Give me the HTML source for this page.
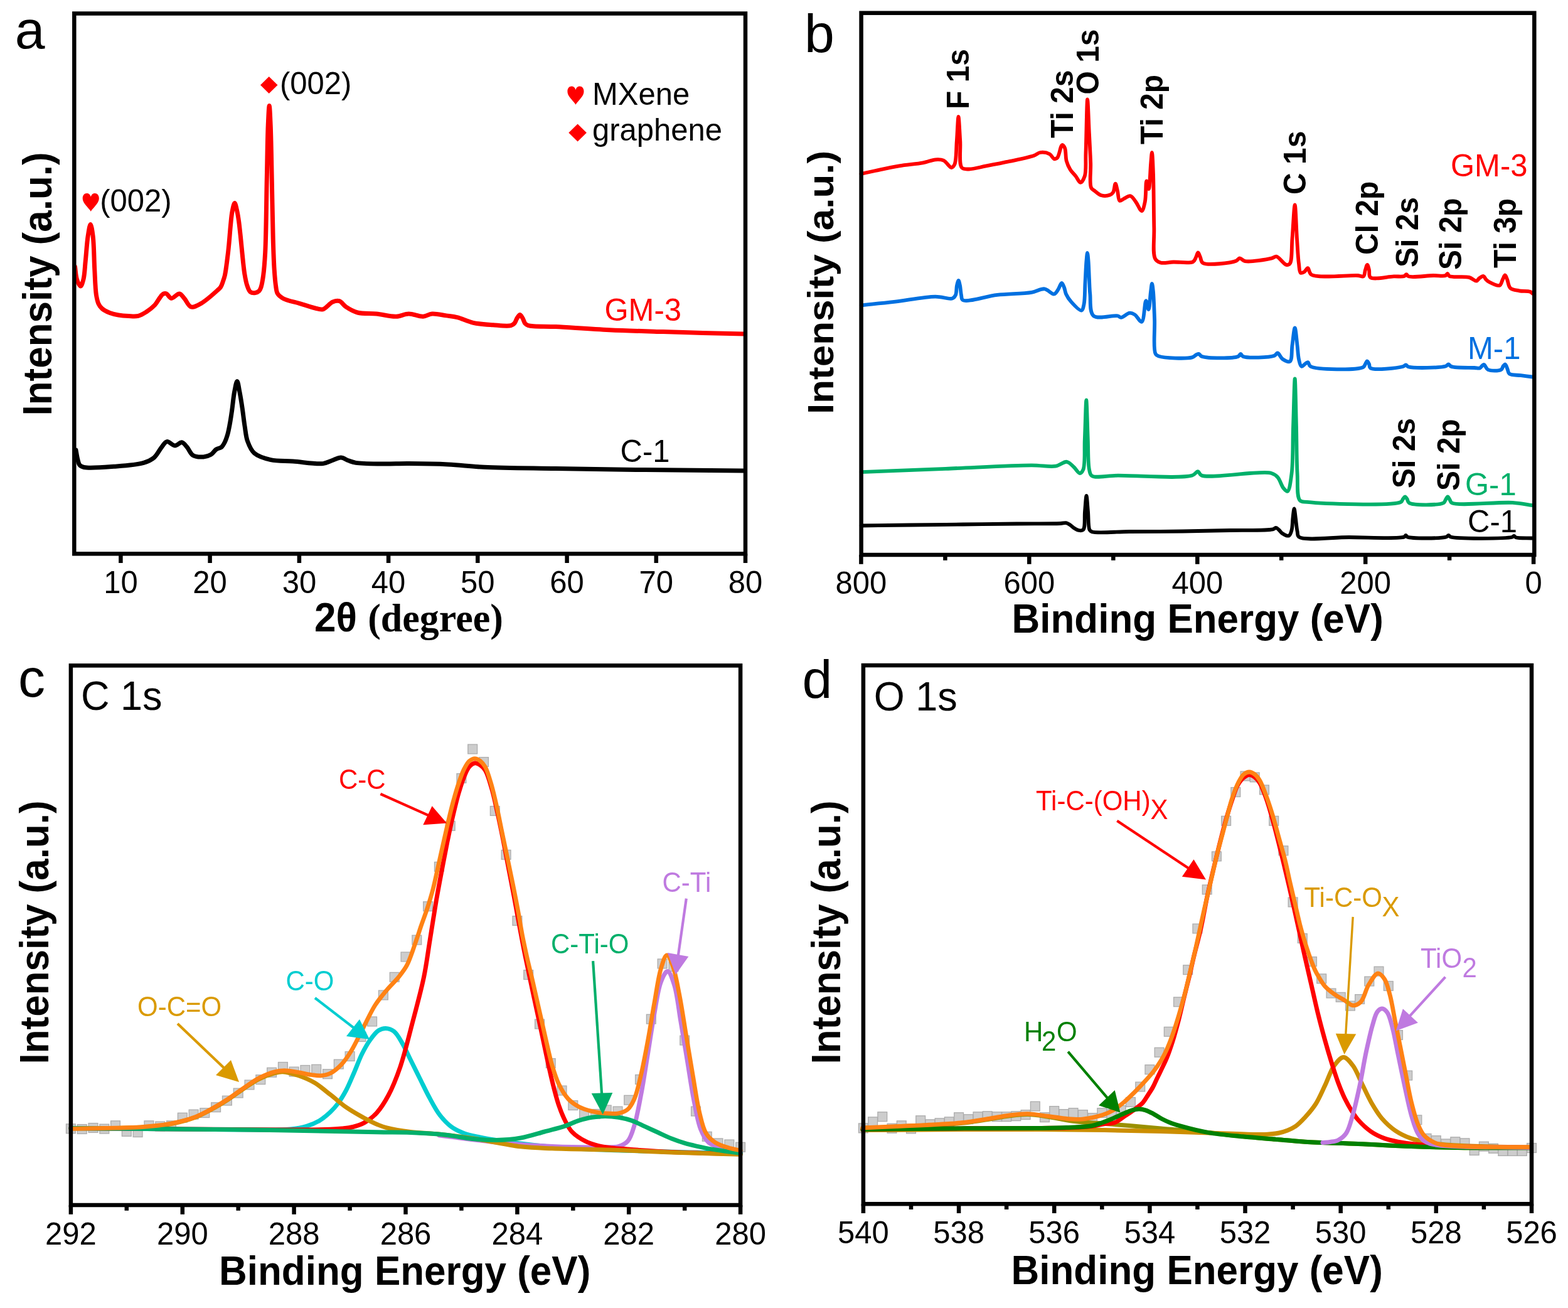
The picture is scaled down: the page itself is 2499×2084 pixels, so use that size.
<!DOCTYPE html>
<html><head><meta charset="utf-8"><title>Figure</title>
<style>html,body{margin:0;padding:0;background:#fff;overflow:hidden}svg{display:block}</style>
</head><body>
<svg width="2499" height="2084" viewBox="0 0 2499 2084"><rect width="2499" height="2084" fill="#fff"/>
<path d="M119.5 425 C120.5 431.7 120.7 439.5 122.5 445 C123.9 449.4 126.6 456.1 128.4 456 C130.1 455.9 131.8 449.7 133 445 C134.9 437.6 135.2 425.9 136.3 415.3 C137.6 403.1 138.5 386.5 140.2 375.9 C141.4 368.6 142.9 357.5 144.2 357.5 C145.5 357.5 147.1 368.1 148.1 375.9 C149.8 388.9 149.8 411.9 150.7 428.4 C151.5 443.1 151.8 459.9 153.4 470 C154.4 476 155.2 480.2 157 484 C158.4 487.1 160 489.3 162.5 491.5 C165.6 494.3 170.6 496.7 175 498.5 C179.4 500.2 184 501.2 188.8 502 C194 502.9 199.7 503.3 205 503.5 C210.2 503.7 215.6 504.5 220.4 503.3 C225.1 502.2 229.3 499.4 233.5 496.7 C238 493.8 242.9 490.1 246.6 486.2 C250 482.5 252.5 477.2 255 474 C256.8 471.7 258 469.5 259.8 468.5 C261.4 467.7 263.2 467.2 265 467.8 C267.5 468.6 269.8 474.8 272.9 475.2 C276.6 475.7 282.3 467.5 286 468 C289.1 468.4 291.2 472.7 293.9 475.7 C297.3 479.4 300 487.6 304.4 488.9 C308.8 490.2 314.6 486.7 320.2 483.6 C328.2 479.2 341.2 467.4 346.5 462.6 C349 460.3 350.3 459.5 351.7 457.3 C353.4 454.8 354.4 451.1 355.5 448 C356.6 445 357.4 442.8 358.3 439 C359.8 432.6 361.1 421.5 362.2 413 C363.3 404.8 364.1 397.5 364.9 389 C365.8 379.6 366.6 368.2 367.5 359 C368.3 351.1 368.8 343.4 370.1 337 C371.1 331.9 372.7 323.5 374 323.5 C375.3 323.5 376.9 332.3 378 337 C379.1 342 379.8 346.8 380.6 352.5 C381.6 359.5 382.4 367.9 383.3 375.9 C384.2 384.4 384.9 392.9 385.9 402.2 C387 412.8 388.2 426.7 389.8 436.3 C391 443.4 392 449.5 393.8 454.7 C395.2 458.8 396.5 463.3 399 465.2 C401.1 466.7 404.5 466.9 406.9 466.5 C409.1 466.2 411.5 465 413 463.5 C414.5 462 415.2 460 416.1 457.3 C417.5 453.1 418.5 446.9 419.5 440 C420.9 429.9 421.8 418.3 422.7 402.2 C424.2 373.8 424.5 320 425.3 284 C426 253.6 426.3 221.3 427.2 200 C427.8 187 428.5 168.5 429.2 168.5 C429.9 168.5 430.6 187 431.2 200 C432.1 221.3 432.6 255.1 433.2 284 C433.9 314.9 434.4 353.4 435.2 380 C435.8 398.9 436.2 414.7 437.1 428.4 C437.8 438.6 438.4 447.8 439.5 455 C440.3 460.1 440.3 464.3 442.4 467.8 C444.4 471.2 447.4 473.4 451.6 475.7 C457.9 479.1 469.1 481 477.8 483.6 C486.6 486.2 497.3 490.1 504.1 491.5 C508.3 492.4 510.9 493.8 514.6 492.8 C519.6 491.5 525.4 483 530.4 481 C534.1 479.5 537.6 478.7 540.9 479.7 C544.7 480.9 547.2 486.1 551.4 488.9 C556.5 492.3 562.7 496.1 569.8 498 C578.4 500.3 589.9 499 600 500 C610.4 501.1 622.1 504.7 631.4 504.3 C638.8 504 644.5 500.1 651.4 500 C658.8 499.9 667.6 504.7 674.3 504.3 C679.7 504 683.2 500.4 688.6 500 C695.3 499.4 704.3 501.9 711.4 502.9 C717.5 503.8 722.4 504.2 728.6 505.7 C736.4 507.6 745.2 512.3 754.3 514.3 C764.1 516.5 775.5 517 785.7 517.7 C795.4 518.4 808.5 520.2 814.3 518.6 C817.1 517.8 818.4 516.7 820 515 C821.8 513 822.5 509.3 824 507 C825.4 504.9 827.1 501.5 828.6 501.5 C830.1 501.5 831.7 504.9 833 507 C834.5 509.4 835.2 513.5 837 515.5 C838.4 517.1 839.3 517.8 842 518.6 C849.2 520.8 868.7 519.7 885.7 520.6 C909.5 521.9 942.8 524.4 971.4 525.7 C999.9 527 1030.6 527.8 1057 528.6 C1079.6 529.3 1098.8 529.9 1120 530.5 C1141.7 531.1 1163.8 531.5 1185.7 532" fill="none" stroke="#ff0000" stroke-width="7" stroke-linejoin="round" stroke-linecap="round"/>
<path d="M121 717 C121.9 722 122.6 727.7 123.8 732 C124.7 735.4 125.2 738.9 127 741 C128.6 742.9 130.4 743.7 133.8 744.5 C142.4 746.5 165.6 744.5 181.4 743.3 C197.3 742.1 217.4 740.9 229 737.4 C236.2 735.2 241 733 245.7 729 C250.6 724.8 253.8 717 257.6 712.4 C260.5 708.9 262.6 704.2 266 703.6 C269.7 702.9 274.9 710 279 710 C282.8 710 286.6 704.3 289.8 704.8 C292.9 705.3 295.4 709.4 298.1 712.4 C301.3 716 303.3 722.9 307.6 725.5 C312 728.1 319.2 728.3 324.3 727.9 C328.6 727.6 332.8 726.3 336.2 724.3 C339.5 722.3 341.5 718 344.5 716 C347.1 714.2 350.6 714.2 352.9 712.4 C355.1 710.6 356.5 707.9 358 705 C359.8 701.6 361.1 697.6 362.4 693.3 C363.9 688.4 364.9 682.8 366 677 C367.3 670.3 368.3 663.1 369.5 655.2 C370.9 646 371.8 633.7 373.5 625 C374.8 618.3 376.5 607.5 377.9 607.5 C379.3 607.5 380.7 618.6 382 625 C383.5 632.7 384.9 641.7 386.2 650.5 C387.6 660 388.7 670.8 390.2 680 C391.5 688.1 391.9 695.8 394.5 702.9 C397 709.8 399.7 717.1 405.2 721.9 C411.4 727.4 421.8 730.4 431.4 732.6 C442.2 735.1 454.3 734.1 467.1 735 C481.9 736.1 503.7 740 514.8 738.6 C521 737.8 524.3 735.4 529 733.8 C533.8 732.2 538.8 728.9 543.3 729 C547.5 729.1 551.2 732.4 555.2 733.8 C559.1 735.2 561.8 736.5 567.1 737.4 C576.9 739 595.8 738.8 610 739 C623.9 739.2 636.2 738.5 651.4 738.6 C670.2 738.7 693.9 739 714.3 740 C733.8 741 749.1 743.2 771.4 744.3 C802.9 745.8 845.5 745.9 885.7 746.6 C930.7 747.4 979.9 748 1028.6 748.6 C1079.4 749.2 1132.4 749.5 1184.3 750" fill="none" stroke="#000000" stroke-width="7" stroke-linejoin="round" stroke-linecap="round"/>
<rect x="118.3" y="21.5" width="1069.7" height="860.8" fill="none" stroke="#000" stroke-width="6.5"/>
<line x1="192.4" y1="882.3" x2="192.4" y2="897" stroke="#000" stroke-width="6.5" stroke-linecap="butt"/>
<line x1="334.6" y1="882.3" x2="334.6" y2="897" stroke="#000" stroke-width="6.5" stroke-linecap="butt"/>
<line x1="476.9" y1="882.3" x2="476.9" y2="897" stroke="#000" stroke-width="6.5" stroke-linecap="butt"/>
<line x1="619.1" y1="882.3" x2="619.1" y2="897" stroke="#000" stroke-width="6.5" stroke-linecap="butt"/>
<line x1="761.3" y1="882.3" x2="761.3" y2="897" stroke="#000" stroke-width="6.5" stroke-linecap="butt"/>
<line x1="903.6" y1="882.3" x2="903.6" y2="897" stroke="#000" stroke-width="6.5" stroke-linecap="butt"/>
<line x1="1045.8" y1="882.3" x2="1045.8" y2="897" stroke="#000" stroke-width="6.5" stroke-linecap="butt"/>
<line x1="1188" y1="882.3" x2="1188" y2="897" stroke="#000" stroke-width="6.5" stroke-linecap="butt"/>
<text transform="translate(192.4,944.5) scale(1.0,1.035)" font-family="&quot;Liberation Sans&quot;, Arial, Helvetica, sans-serif" font-size="49" text-anchor="middle" fill="#000">10</text>
<text transform="translate(334.6,944.5) scale(1.0,1.035)" font-family="&quot;Liberation Sans&quot;, Arial, Helvetica, sans-serif" font-size="49" text-anchor="middle" fill="#000">20</text>
<text transform="translate(476.9,944.5) scale(1.0,1.035)" font-family="&quot;Liberation Sans&quot;, Arial, Helvetica, sans-serif" font-size="49" text-anchor="middle" fill="#000">30</text>
<text transform="translate(619.1,944.5) scale(1.0,1.035)" font-family="&quot;Liberation Sans&quot;, Arial, Helvetica, sans-serif" font-size="49" text-anchor="middle" fill="#000">40</text>
<text transform="translate(761.3,944.5) scale(1.0,1.035)" font-family="&quot;Liberation Sans&quot;, Arial, Helvetica, sans-serif" font-size="49" text-anchor="middle" fill="#000">50</text>
<text transform="translate(903.6,944.5) scale(1.0,1.035)" font-family="&quot;Liberation Sans&quot;, Arial, Helvetica, sans-serif" font-size="49" text-anchor="middle" fill="#000">60</text>
<text transform="translate(1045.8,944.5) scale(1.0,1.035)" font-family="&quot;Liberation Sans&quot;, Arial, Helvetica, sans-serif" font-size="49" text-anchor="middle" fill="#000">70</text>
<text transform="translate(1188,944.5) scale(1.0,1.035)" font-family="&quot;Liberation Sans&quot;, Arial, Helvetica, sans-serif" font-size="49" text-anchor="middle" fill="#000">80</text>
<text transform="translate(23.7,77) scale(1.0,0.99)" font-family="&quot;Liberation Sans&quot;, Arial, Helvetica, sans-serif" font-size="86" fill="#000">a</text>
<text transform="translate(81.5,662.5) rotate(-90) scale(1.0,1.035)" font-family="&quot;Liberation Sans&quot;, Arial, Helvetica, sans-serif" font-size="62" font-weight="bold" fill="#000">Intensity (a.u.)</text>
<text transform="translate(501,1005.7) scale(1,1.035)" font-size="62" font-weight="bold" fill="#000"><tspan font-family="&quot;Liberation Sans&quot;, Arial, Helvetica, sans-serif">2θ </tspan><tspan font-family="&quot;Liberation Serif&quot;, &quot;Times New Roman&quot;, serif">(degree)</tspan></text>
<path transform="translate(131.7,308) scale(26.1,28.9)" fill="#ff0000" d="M0.5,0.19 C0.44,0.04 0.35,0 0.25,0 C0.1,0 0,0.12 0,0.27 C0,0.45 0.12,0.58 0.25,0.72 C0.36,0.84 0.45,0.92 0.5,1 C0.55,0.92 0.64,0.84 0.75,0.72 C0.88,0.58 1,0.45 1,0.27 C1,0.12 0.9,0 0.75,0 C0.65,0 0.56,0.04 0.5,0.19 Z"/>
<text transform="translate(159.3,337.3) scale(1.0,1.035)" font-family="&quot;Liberation Sans&quot;, Arial, Helvetica, sans-serif" font-size="49" fill="#000">(002)</text>
<polygon points="428.7,122 442.5,135.5 428.7,149 415,135.5" fill="#ff0000"/>
<text transform="translate(446,150) scale(1.0,1.035)" font-family="&quot;Liberation Sans&quot;, Arial, Helvetica, sans-serif" font-size="49" fill="#000">(002)</text>
<path transform="translate(904.4,137.6) scale(26.1,29.2)" fill="#ff0000" d="M0.5,0.19 C0.44,0.04 0.35,0 0.25,0 C0.1,0 0,0.12 0,0.27 C0,0.45 0.12,0.58 0.25,0.72 C0.36,0.84 0.45,0.92 0.5,1 C0.55,0.92 0.64,0.84 0.75,0.72 C0.88,0.58 1,0.45 1,0.27 C1,0.12 0.9,0 0.75,0 C0.65,0 0.56,0.04 0.5,0.19 Z"/>
<polygon points="920.6,197.6 934.9,211.6 920.6,225.6 906.3,211.6" fill="#ff0000"/>
<text transform="translate(944,167) scale(1.0,1.035)" font-family="&quot;Liberation Sans&quot;, Arial, Helvetica, sans-serif" font-size="49" fill="#000">MXene</text>
<text transform="translate(944,224.3) scale(1.0,1.035)" font-family="&quot;Liberation Sans&quot;, Arial, Helvetica, sans-serif" font-size="49" fill="#000">graphene</text>
<text transform="translate(963.5,511.4) scale(1.0,1.035)" font-family="&quot;Liberation Sans&quot;, Arial, Helvetica, sans-serif" font-size="49" fill="#ff0000">GM-3</text>
<text transform="translate(988.5,735.7) scale(1.0,1.035)" font-family="&quot;Liberation Sans&quot;, Arial, Helvetica, sans-serif" font-size="49" fill="#000">C-1</text>
<path d="M1372.5 277 C1380.1 275.3 1386.7 273.8 1395.2 272 C1406.2 269.7 1420.4 266.5 1433.1 264.4 C1445.7 262.3 1460.4 261.4 1471 259.4 C1478.8 257.9 1485.2 254.7 1491.2 254.3 C1495.9 254 1499.9 253.8 1503.8 255.6 C1508.4 257.6 1513.2 267.1 1516.4 267 C1518.5 266.9 1520.1 264.7 1521.4 261.9 C1524.4 255.5 1523.8 237.5 1524.8 225 C1525.8 212.2 1526.6 186 1527.5 186 C1528.4 186 1529.4 211.8 1530.3 225 C1531.2 238.7 1527.8 261.1 1532.8 267 C1535.4 270.1 1539.6 269.4 1544.2 269.5 C1551.4 269.6 1562 266.3 1571.9 264.4 C1583.6 262.2 1597.2 259.6 1609.8 256.9 C1622.4 254.2 1639.1 251 1647.6 248 C1652.2 246.4 1653.9 243.6 1657.7 243 C1662.2 242.3 1669 243.4 1672.9 245.5 C1676.1 247.2 1677.6 252.5 1680 253.1 C1681.7 253.5 1683.5 252.9 1685.1 251.4 C1688.2 248.4 1690.2 231.5 1692.8 231 C1694.2 230.7 1696 233.5 1697.1 236 C1699 240.4 1698 250.5 1699.7 256.5 C1701.1 261.6 1703.2 266.1 1705.7 270.2 C1708.1 274.1 1711.6 277 1714.3 280.5 C1717 283.9 1719.6 290.9 1722 290.8 C1724.4 290.7 1727.2 285.3 1728.8 280.5 C1731.5 272.1 1729.9 257.9 1730.5 242.8 C1731.4 220.3 1732.1 158.5 1733.1 158.5 C1733.9 158.5 1734.9 191.7 1735.7 208.5 C1736.6 225.5 1737.6 243.9 1738.2 259.9 C1738.7 273.9 1735.9 292.6 1739.1 299.3 C1740.5 302.3 1742.8 302.7 1745.1 304.5 C1748 306.7 1751.5 310.3 1755.4 311.3 C1759.5 312.4 1765.8 311.8 1769.1 310.5 C1771.4 309.6 1772.9 308.3 1774.2 306.2 C1776.1 303.1 1776.5 292.6 1777.7 292.6 C1778.8 292.6 1780 300.3 1781.1 304.5 C1782.3 309.3 1782.1 318.7 1784.5 319.9 C1786.2 320.7 1788.9 317.7 1791.4 316.5 C1794.5 315.1 1798.6 311.5 1801.6 312.2 C1804.9 312.9 1807.4 318 1810.2 321.6 C1813.4 325.8 1817.1 336.3 1819.6 336 C1821.9 335.7 1823.5 327.5 1824.8 321.6 C1826.7 312.9 1825.8 288.4 1827.3 288.3 C1828.2 288.2 1829.8 301.1 1830.8 301 C1832.5 300.8 1833.2 270.6 1834.2 259.9 C1834.8 253 1835.4 243 1835.9 243 C1836.7 243 1837.5 263.2 1838 277.1 C1838.8 299.2 1838.7 338.1 1839.3 362.7 C1839.8 381.4 1836.6 403.7 1841 412.1 C1843 416 1845.9 417.4 1849.6 418.5 C1854.8 420.1 1862.5 417.7 1870 417.5 C1879.3 417.2 1895.9 420.1 1901.4 417.1 C1904.3 415.5 1904.7 412.5 1906 410 C1907.3 407.6 1908.2 402.4 1909.4 402.4 C1910.6 402.4 1911.8 407.4 1913 410 C1914.3 412.9 1913.8 417 1917.1 419 C1924.6 423.5 1961.5 418.9 1970 415.7 C1973.1 414.5 1973.5 411.6 1975.7 411.4 C1978.2 411.2 1980.2 415.3 1984.3 416.1 C1993 417.8 2018.9 413.4 2027.1 411.4 C2030.6 410.5 2031.6 408.1 2034.3 408.6 C2038.7 409.3 2045.9 421.1 2050 421.9 C2052.2 422.3 2054.2 421.9 2055.7 420 C2059.6 415.1 2058.3 394.3 2059.5 380 C2060.9 363.5 2062.4 326.5 2063.7 326.5 C2064.9 326.5 2065.9 363.5 2067 380 C2068 394.3 2068.6 410 2070 420 C2070.8 426.1 2070.7 433.3 2072.9 434.7 C2074.3 435.6 2076.8 434.3 2078.6 433.3 C2080.7 432.1 2082.5 426.9 2084.3 427.1 C2086.4 427.4 2085.8 435 2090 437.6 C2100.5 444 2151.7 437.9 2164.3 439 C2168.6 439.4 2171 441.6 2172.9 440.4 C2175.1 439 2174.9 433.2 2176 430 C2177 427.1 2178.1 422 2179.1 422 C2180.1 422 2181.2 427 2182 430 C2182.9 433.5 2181 439.5 2184 441.9 C2189.3 446.2 2211.4 440.7 2221.4 440.4 C2228 440.2 2234.7 441.3 2238 440 C2239.7 439.3 2240.3 437.1 2241.4 437.1 C2242.6 437.1 2242.9 439.6 2245 440.4 C2250.9 442.6 2273.4 439.2 2284.3 439 C2292 438.9 2300.4 440.5 2304 439 C2305.6 438.3 2306 435.9 2307 436 C2308 436.1 2308.1 439 2310 440 C2314.8 442.6 2333.7 439.8 2341.4 441.9 C2346.3 443.2 2349.9 448 2352.9 447.6 C2355.1 447.3 2356.1 444.3 2358 443 C2359.9 441.7 2362.6 439.6 2364.3 440 C2365.9 440.4 2366.6 443.5 2368 445 C2369.4 446.5 2370.6 447.7 2372.9 449 C2376.8 451.1 2386.3 456.2 2390 454.7 C2392.9 453.5 2393.4 447.9 2395 445 C2396.3 442.6 2397.4 438.5 2398.6 438.5 C2399.8 438.5 2400.9 442.4 2402 445 C2403.6 448.7 2403.8 455.9 2407 459 C2410.2 462.1 2416.3 462.3 2421.4 463.3 C2426.8 464.3 2434.9 463.3 2438.6 464.7 C2440.7 465.5 2441.5 466.9 2442.9 468" fill="none" stroke="#ff0000" stroke-width="5.8" stroke-linejoin="round" stroke-linecap="round"/>
<path d="M1372.7 486.3 C1390.1 484.5 1406.4 483 1424.8 480.9 C1445.5 478.5 1473.4 472.8 1490.6 472.6 C1501.7 472.5 1512.8 477.4 1518 475.4 C1520.7 474.4 1521.8 472.5 1523 470 C1524.7 466.4 1524 459.2 1525 455 C1525.7 451.9 1526.8 447 1527.6 447 C1528.4 447 1529.3 451.9 1530 455 C1530.9 459.2 1531.1 465.8 1532 470 C1532.7 473.1 1531.9 476.5 1534.5 478.1 C1541.2 482.3 1571 472 1589.3 469.9 C1607.5 467.9 1630.3 468.1 1644.1 465.8 C1652.7 464.3 1658.5 459.6 1664.7 460.3 C1670.3 461 1676 469.1 1679.8 468.5 C1682.5 468.1 1684.1 464.6 1686 462 C1688.3 458.9 1690.3 451 1692.1 451 C1693.5 451 1694.9 455.4 1696 458 C1697.3 461.1 1697.4 465 1699 468.5 C1700.9 472.6 1703.6 476.9 1707.2 480.9 C1711.5 485.7 1720.3 495.4 1723.6 494.6 C1725.9 494 1726.5 489.3 1727.5 485 C1729.3 477.1 1728.8 461.7 1729.5 450 C1730.2 438.3 1730.7 423.6 1731.5 415 C1732 409.9 1732.5 403 1733 403 C1733.5 403 1734.1 410.1 1734.5 415 C1735.2 422.7 1735.5 435.6 1736 445 C1736.4 453.3 1736.4 459.9 1737.3 468.5 C1738.4 479 1735.9 497.3 1742.8 503.2 C1750 509.4 1774.3 501.6 1781.2 503.2 C1784 503.8 1784.5 505.9 1786.7 505.9 C1790.3 505.9 1796.4 499 1800.4 498.7 C1803.4 498.4 1805.9 499.7 1808.6 501.4 C1812.3 503.7 1816.8 513.6 1819.6 512.8 C1823.7 511.6 1824.2 479.2 1826.4 479.1 C1827.8 479 1829.4 493.3 1830.5 493.2 C1832.1 493.1 1832.9 472.6 1834 465 C1834.7 459.8 1835.3 452 1836 452 C1836.7 452 1837.4 459.4 1838 465 C1839 475.4 1839.5 494 1840.1 509.6 C1840.7 526.7 1837.6 556 1841.5 563.5 C1842.9 566.2 1844 566.5 1847 567.6 C1855.4 570.6 1890.8 571.9 1900 569.4 C1903.6 568.4 1905 565.9 1907 565 C1908.3 564.4 1909.3 563.6 1910.5 563.8 C1912.1 564.1 1912.7 567 1915.7 568 C1924.4 571.1 1965.5 571.3 1973.3 568 C1975.8 566.9 1976 563.8 1977.3 563.8 C1978.6 563.8 1978.8 567 1981.2 568 C1988.3 571 2023.1 569.6 2031 566.7 C2033.9 565.6 2034.4 562.3 2036.2 562.5 C2038.7 562.8 2040.7 569.8 2044 572 C2047.3 574.2 2053.1 577.6 2055.8 575.9 C2059.7 573.5 2058.2 558.8 2059.5 550 C2060.8 541 2062.4 522.5 2063.7 522.5 C2065 522.5 2066.4 541.2 2067.5 550 C2068.5 558.1 2068.7 567.1 2070.2 573.3 C2071.2 577.6 2072.2 583.2 2074.2 583.8 C2075.9 584.3 2079 580.2 2081 579 C2082.4 578.2 2083.6 576.9 2084.7 577.2 C2086.2 577.7 2085.6 582.1 2088.6 583.8 C2098.4 589.5 2163 589.9 2172.4 585.1 C2175 583.8 2174.9 581.7 2176 580 C2177 578.5 2177.9 575.5 2178.9 575.5 C2179.9 575.5 2181.2 578.3 2182 580 C2182.9 581.9 2181.9 584.9 2184 586.4 C2189.9 590.6 2228.2 586.2 2236 584 C2238.4 583.3 2239 581.4 2240.5 581.5 C2242 581.6 2242.5 583.8 2245 584.5 C2253.4 587 2295.6 586.1 2304 583.5 C2306.6 582.7 2307.1 580.4 2308.6 580.5 C2310.1 580.6 2310.6 583.1 2313 584 C2319.2 586.3 2342 585.6 2350 586 C2353.8 586.2 2355.9 587.3 2358.4 586.4 C2360.9 585.5 2362.8 580.6 2364.9 580.8 C2367.2 581 2368.1 587.4 2371.4 589 C2376.1 591.3 2388.5 591.2 2392.4 589 C2394.6 587.7 2394.7 584.5 2396 583 C2397 581.9 2398.1 580.3 2399 580.5 C2400.3 580.8 2401.4 585.5 2402.5 588 C2403.6 590.5 2403.3 593.8 2405.5 595.6 C2408.8 598.2 2417.7 597.4 2423.8 598.2 C2429.9 599 2436.1 599.7 2442.2 600.5" fill="none" stroke="#0070e0" stroke-width="5.8" stroke-linejoin="round" stroke-linecap="round"/>
<path d="M1372.7 752.2 C1417.5 750.4 1462 748.6 1507 746.8 C1552.5 745 1612.5 741.4 1644.1 741.3 C1660.8 741.3 1672.3 744.4 1682.5 742.7 C1689.7 741.5 1695.2 735.1 1700.3 735.8 C1704.6 736.4 1707.9 741 1711.3 744 C1714.7 747 1718.2 754 1720.9 754 C1723 754 1725 751.4 1726.4 748.1 C1729.8 740 1728 717.1 1728.8 700 C1729.7 680.5 1730.5 637.5 1731.3 637.5 C1732.1 637.5 1733 680.5 1733.8 700 C1734.5 717.1 1733.8 738.2 1736 748.1 C1737 752.8 1736.8 755.9 1740.1 758.1 C1746.5 762.4 1763.9 757.8 1781.2 757.7 C1810.5 757.5 1883.1 763 1900 757.6 C1905.2 755.9 1906.6 750.8 1909.2 751.1 C1911.5 751.4 1911.2 755.9 1915 757.5 C1928.5 763.2 2008.6 749.1 2025.7 753.7 C2031.4 755.2 2033.2 757 2036.2 760.3 C2040 764.4 2042.2 773.7 2045.4 777.6 C2047.5 780.1 2050.1 783.4 2051.9 782.8 C2055.3 781.6 2056.9 766.6 2058.5 755 C2061 736.2 2060.1 705.1 2061 680 C2061.9 654.6 2062.9 603.5 2063.7 603.5 C2064.5 603.5 2065.3 654.6 2066 680 C2066.6 705.1 2066.4 733.6 2067.6 755 C2068.5 771.1 2066.4 791.2 2071.6 797.2 C2074.4 800.4 2077.1 799.2 2083.3 799.9 C2105 802.4 2219.6 806.7 2232.6 799.9 C2235.2 798.5 2234.8 796.5 2236 795 C2237 793.7 2238.1 791.4 2239.2 791.4 C2240.3 791.4 2241.5 793.6 2242.5 795 C2243.7 796.7 2243.2 799.7 2245.7 801.2 C2252.7 805.5 2293.6 805.1 2300.7 801.2 C2303.1 799.9 2302.9 797.7 2304 796 C2305.1 794.4 2306.2 791.4 2307.3 791.4 C2308.4 791.4 2309.4 794.4 2310.5 796 C2311.6 797.7 2311.3 799.8 2313.8 801.2 C2323.8 806.7 2387.3 799.4 2410.7 800.9 C2424.1 801.8 2431.7 803.7 2442.2 805.1" fill="none" stroke="#00b06a" stroke-width="5.8" stroke-linejoin="round" stroke-linecap="round"/>
<path d="M1372.7 837.5 C1398.5 837.2 1423.7 836.8 1450 836.5 C1477.5 836.2 1506.3 835.8 1534.5 835.5 C1562.9 835.2 1592.9 834.8 1620 834.5 C1644.5 834.3 1677.7 834.6 1690 834 C1694.4 833.8 1696.4 832.7 1699 833.2 C1701.3 833.6 1703 834.8 1705 836 C1707.3 837.4 1709.5 840 1712 841.5 C1714.4 843 1717 844.6 1719.5 845 C1721.8 845.4 1724.7 845.9 1726.4 844.1 C1729.9 840.5 1728.1 824.3 1729 815 C1729.8 806.3 1730.7 790 1731.5 790 C1732.3 790 1733.2 806.3 1734 815 C1734.9 824.3 1734.1 839.5 1736.5 844.1 C1737.5 846 1737.9 846.4 1740.1 847.2 C1747.8 850 1778.3 847.1 1800 847 C1825.7 846.9 1857 846.9 1884.4 846.5 C1910.3 846.2 1935.4 845.5 1960 845 C1983.4 844.5 2018.6 845.7 2028.4 843.4 C2031.2 842.7 2032 840.8 2033.6 840.9 C2035.2 841 2036.5 842.7 2038 844 C2039.9 845.6 2041.4 848.5 2043.9 850 C2046.7 851.8 2051.7 854.5 2054.2 853.5 C2056.5 852.6 2057.5 848.5 2058.5 845 C2060 839.8 2059.8 831.1 2060.5 825 C2061.1 819.8 2061.9 810.5 2062.6 810.5 C2063.3 810.5 2064.1 819.7 2064.8 825 C2065.7 831.5 2066.4 841.1 2067.6 846.7 C2068.4 850.3 2067.3 853.3 2070.2 855.5 C2078.8 862 2122.8 856 2150 856 C2178.6 856 2229.4 858.9 2237.9 855.5 C2239.6 854.8 2239.6 853 2240.5 853 C2241.3 853 2241.4 854.8 2243 855.5 C2249.8 858.3 2297.1 858 2305 855.5 C2307.1 854.8 2307.4 853 2308.6 853 C2309.8 853 2309.9 854.8 2312 855.5 C2322.1 858.8 2400.4 858.2 2410 855.7 C2411.8 855.2 2412 853.9 2413 854 C2414 854.1 2414.4 855.6 2416 856.2 C2420.3 857.7 2433.5 857.1 2442.2 857.5" fill="none" stroke="#000000" stroke-width="5.8" stroke-linejoin="round" stroke-linecap="round"/>
<rect x="1372.6" y="20.7" width="1072.7" height="863.3" fill="none" stroke="#000" stroke-width="6.5"/>
<line x1="1372.4" y1="884" x2="1372.4" y2="898.8" stroke="#000" stroke-width="6.5" stroke-linecap="butt"/>
<line x1="1640.3" y1="884" x2="1640.3" y2="898.8" stroke="#000" stroke-width="6.5" stroke-linecap="butt"/>
<line x1="1908.3" y1="884" x2="1908.3" y2="898.8" stroke="#000" stroke-width="6.5" stroke-linecap="butt"/>
<line x1="2176.2" y1="884" x2="2176.2" y2="898.8" stroke="#000" stroke-width="6.5" stroke-linecap="butt"/>
<line x1="2444.1" y1="884" x2="2444.1" y2="898.8" stroke="#000" stroke-width="6.5" stroke-linecap="butt"/>
<line x1="1506.4" y1="884" x2="1506.4" y2="892.8" stroke="#000" stroke-width="6.5" stroke-linecap="butt"/>
<line x1="1774.3" y1="884" x2="1774.3" y2="892.8" stroke="#000" stroke-width="6.5" stroke-linecap="butt"/>
<line x1="2042.2" y1="884" x2="2042.2" y2="892.8" stroke="#000" stroke-width="6.5" stroke-linecap="butt"/>
<line x1="2310.1" y1="884" x2="2310.1" y2="892.8" stroke="#000" stroke-width="6.5" stroke-linecap="butt"/>
<text transform="translate(1372.4,945.5) scale(1.0,1.035)" font-family="&quot;Liberation Sans&quot;, Arial, Helvetica, sans-serif" font-size="49" text-anchor="middle" fill="#000">800</text>
<text transform="translate(1640.3,945.5) scale(1.0,1.035)" font-family="&quot;Liberation Sans&quot;, Arial, Helvetica, sans-serif" font-size="49" text-anchor="middle" fill="#000">600</text>
<text transform="translate(1908.3,945.5) scale(1.0,1.035)" font-family="&quot;Liberation Sans&quot;, Arial, Helvetica, sans-serif" font-size="49" text-anchor="middle" fill="#000">400</text>
<text transform="translate(2176.2,945.5) scale(1.0,1.035)" font-family="&quot;Liberation Sans&quot;, Arial, Helvetica, sans-serif" font-size="49" text-anchor="middle" fill="#000">200</text>
<text transform="translate(2444.1,945.5) scale(1.0,1.035)" font-family="&quot;Liberation Sans&quot;, Arial, Helvetica, sans-serif" font-size="49" text-anchor="middle" fill="#000">0</text>
<text transform="translate(1282,83) scale(1.0,0.99)" font-family="&quot;Liberation Sans&quot;, Arial, Helvetica, sans-serif" font-size="86" fill="#000">b</text>
<text transform="translate(1328,660) rotate(-90) scale(1.0,0.93)" font-family="&quot;Liberation Sans&quot;, Arial, Helvetica, sans-serif" font-size="62" font-weight="bold" fill="#000">Intensity (a.u.)</text>
<text transform="translate(1612.5,1007.7) scale(1.0,1.035)" font-family="&quot;Liberation Sans&quot;, Arial, Helvetica, sans-serif" font-size="62" font-weight="bold" fill="#000">Binding Energy (eV)</text>
<text transform="translate(1544.4,174) rotate(-90) scale(1.0,1.035)" font-family="&quot;Liberation Sans&quot;, Arial, Helvetica, sans-serif" font-size="48" font-weight="bold" fill="#000">F 1s</text>
<text transform="translate(1710,220) rotate(-90) scale(1.0,1.035)" font-family="&quot;Liberation Sans&quot;, Arial, Helvetica, sans-serif" font-size="48" font-weight="bold" fill="#000">Ti 2s</text>
<text transform="translate(1751,150.5) rotate(-90) scale(1.0,1.035)" font-family="&quot;Liberation Sans&quot;, Arial, Helvetica, sans-serif" font-size="48" font-weight="bold" fill="#000">O 1s</text>
<text transform="translate(1853,230) rotate(-90) scale(1.0,1.035)" font-family="&quot;Liberation Sans&quot;, Arial, Helvetica, sans-serif" font-size="48" font-weight="bold" fill="#000">Ti 2p</text>
<text transform="translate(2081.4,310) rotate(-90) scale(1.0,1.035)" font-family="&quot;Liberation Sans&quot;, Arial, Helvetica, sans-serif" font-size="48" font-weight="bold" fill="#000">C 1s</text>
<text transform="translate(2195.7,406) rotate(-90) scale(1.0,1.035)" font-family="&quot;Liberation Sans&quot;, Arial, Helvetica, sans-serif" font-size="48" font-weight="bold" fill="#000">Cl 2p</text>
<text transform="translate(2260,426) rotate(-90) scale(1.0,1.035)" font-family="&quot;Liberation Sans&quot;, Arial, Helvetica, sans-serif" font-size="48" font-weight="bold" fill="#000">Si 2s</text>
<text transform="translate(2328.6,430) rotate(-90) scale(1.0,1.035)" font-family="&quot;Liberation Sans&quot;, Arial, Helvetica, sans-serif" font-size="48" font-weight="bold" fill="#000">Si 2p</text>
<text transform="translate(2415.7,427) rotate(-90) scale(1.0,1.035)" font-family="&quot;Liberation Sans&quot;, Arial, Helvetica, sans-serif" font-size="48" font-weight="bold" fill="#000">Ti 3p</text>
<text transform="translate(2254.9,778) rotate(-90) scale(1.0,1.035)" font-family="&quot;Liberation Sans&quot;, Arial, Helvetica, sans-serif" font-size="48" font-weight="bold" fill="#000">Si 2s</text>
<text transform="translate(2325.6,782) rotate(-90) scale(1.0,1.035)" font-family="&quot;Liberation Sans&quot;, Arial, Helvetica, sans-serif" font-size="48" font-weight="bold" fill="#000">Si 2p</text>
<text transform="translate(2312,281.4) scale(1.0,1.035)" font-family="&quot;Liberation Sans&quot;, Arial, Helvetica, sans-serif" font-size="49" fill="#ff0000">GM-3</text>
<text transform="translate(2339,571.7) scale(1.0,1.035)" font-family="&quot;Liberation Sans&quot;, Arial, Helvetica, sans-serif" font-size="49" fill="#0070e0">M-1</text>
<text transform="translate(2335,789) scale(1.0,1.035)" font-family="&quot;Liberation Sans&quot;, Arial, Helvetica, sans-serif" font-size="49" fill="#00b06a">G-1</text>
<text transform="translate(2339,848) scale(1.0,1.035)" font-family="&quot;Liberation Sans&quot;, Arial, Helvetica, sans-serif" font-size="49" fill="#000">C-1</text>
<rect x="105.5" y="1790.9" width="14.8" height="14.8" fill="#cdcdcd" stroke="#acacac" stroke-width="1.3"/>
<rect x="123.3" y="1791.6" width="14.8" height="14.8" fill="#cdcdcd" stroke="#acacac" stroke-width="1.3"/>
<rect x="141.1" y="1789.6" width="14.8" height="14.8" fill="#cdcdcd" stroke="#acacac" stroke-width="1.3"/>
<rect x="158.9" y="1791.2" width="14.8" height="14.8" fill="#cdcdcd" stroke="#acacac" stroke-width="1.3"/>
<rect x="176.6" y="1785.9" width="14.8" height="14.8" fill="#cdcdcd" stroke="#acacac" stroke-width="1.3"/>
<rect x="194.4" y="1795.5" width="14.8" height="14.8" fill="#cdcdcd" stroke="#acacac" stroke-width="1.3"/>
<rect x="212.2" y="1796.7" width="14.8" height="14.8" fill="#cdcdcd" stroke="#acacac" stroke-width="1.3"/>
<rect x="230" y="1785.9" width="14.8" height="14.8" fill="#cdcdcd" stroke="#acacac" stroke-width="1.3"/>
<rect x="247.8" y="1787.1" width="14.8" height="14.8" fill="#cdcdcd" stroke="#acacac" stroke-width="1.3"/>
<rect x="265.6" y="1785.9" width="14.8" height="14.8" fill="#cdcdcd" stroke="#acacac" stroke-width="1.3"/>
<rect x="283.4" y="1773.3" width="14.8" height="14.8" fill="#cdcdcd" stroke="#acacac" stroke-width="1.3"/>
<rect x="301.2" y="1768.2" width="14.8" height="14.8" fill="#cdcdcd" stroke="#acacac" stroke-width="1.3"/>
<rect x="318.9" y="1765.7" width="14.8" height="14.8" fill="#cdcdcd" stroke="#acacac" stroke-width="1.3"/>
<rect x="336.7" y="1756.8" width="14.8" height="14.8" fill="#cdcdcd" stroke="#acacac" stroke-width="1.3"/>
<rect x="354.5" y="1746.2" width="14.8" height="14.8" fill="#cdcdcd" stroke="#acacac" stroke-width="1.3"/>
<rect x="372.3" y="1734.1" width="14.8" height="14.8" fill="#cdcdcd" stroke="#acacac" stroke-width="1.3"/>
<rect x="390.1" y="1721" width="14.8" height="14.8" fill="#cdcdcd" stroke="#acacac" stroke-width="1.3"/>
<rect x="407.9" y="1712.7" width="14.8" height="14.8" fill="#cdcdcd" stroke="#acacac" stroke-width="1.3"/>
<rect x="425.7" y="1701.3" width="14.8" height="14.8" fill="#cdcdcd" stroke="#acacac" stroke-width="1.3"/>
<rect x="443.5" y="1692.5" width="14.8" height="14.8" fill="#cdcdcd" stroke="#acacac" stroke-width="1.3"/>
<rect x="461.2" y="1700.1" width="14.8" height="14.8" fill="#cdcdcd" stroke="#acacac" stroke-width="1.3"/>
<rect x="479" y="1697.5" width="14.8" height="14.8" fill="#cdcdcd" stroke="#acacac" stroke-width="1.3"/>
<rect x="496.8" y="1696.3" width="14.8" height="14.8" fill="#cdcdcd" stroke="#acacac" stroke-width="1.3"/>
<rect x="514.6" y="1703.8" width="14.8" height="14.8" fill="#cdcdcd" stroke="#acacac" stroke-width="1.3"/>
<rect x="532.4" y="1688.2" width="14.8" height="14.8" fill="#cdcdcd" stroke="#acacac" stroke-width="1.3"/>
<rect x="550.2" y="1675.6" width="14.8" height="14.8" fill="#cdcdcd" stroke="#acacac" stroke-width="1.3"/>
<rect x="568" y="1644.6" width="14.8" height="14.8" fill="#cdcdcd" stroke="#acacac" stroke-width="1.3"/>
<rect x="585.7" y="1620.1" width="14.8" height="14.8" fill="#cdcdcd" stroke="#acacac" stroke-width="1.3"/>
<rect x="603.5" y="1578.1" width="14.8" height="14.8" fill="#cdcdcd" stroke="#acacac" stroke-width="1.3"/>
<rect x="621.3" y="1549.4" width="14.8" height="14.8" fill="#cdcdcd" stroke="#acacac" stroke-width="1.3"/>
<rect x="639.1" y="1517.1" width="14.8" height="14.8" fill="#cdcdcd" stroke="#acacac" stroke-width="1.3"/>
<rect x="656.9" y="1490.2" width="14.8" height="14.8" fill="#cdcdcd" stroke="#acacac" stroke-width="1.3"/>
<rect x="674.7" y="1436.7" width="14.8" height="14.8" fill="#cdcdcd" stroke="#acacac" stroke-width="1.3"/>
<rect x="692.5" y="1373.5" width="14.8" height="14.8" fill="#cdcdcd" stroke="#acacac" stroke-width="1.3"/>
<rect x="710.3" y="1308.5" width="14.8" height="14.8" fill="#cdcdcd" stroke="#acacac" stroke-width="1.3"/>
<rect x="728" y="1232.6" width="14.8" height="14.8" fill="#cdcdcd" stroke="#acacac" stroke-width="1.3"/>
<rect x="745.8" y="1186.1" width="14.8" height="14.8" fill="#cdcdcd" stroke="#acacac" stroke-width="1.3"/>
<rect x="763.6" y="1206.6" width="14.8" height="14.8" fill="#cdcdcd" stroke="#acacac" stroke-width="1.3"/>
<rect x="781.4" y="1284.6" width="14.8" height="14.8" fill="#cdcdcd" stroke="#acacac" stroke-width="1.3"/>
<rect x="799.2" y="1354.4" width="14.8" height="14.8" fill="#cdcdcd" stroke="#acacac" stroke-width="1.3"/>
<rect x="817" y="1459.6" width="14.8" height="14.8" fill="#cdcdcd" stroke="#acacac" stroke-width="1.3"/>
<rect x="834.8" y="1545.7" width="14.8" height="14.8" fill="#cdcdcd" stroke="#acacac" stroke-width="1.3"/>
<rect x="852.6" y="1624.2" width="14.8" height="14.8" fill="#cdcdcd" stroke="#acacac" stroke-width="1.3"/>
<rect x="870.3" y="1686.6" width="14.8" height="14.8" fill="#cdcdcd" stroke="#acacac" stroke-width="1.3"/>
<rect x="888.1" y="1730.1" width="14.8" height="14.8" fill="#cdcdcd" stroke="#acacac" stroke-width="1.3"/>
<rect x="905.9" y="1753.7" width="14.8" height="14.8" fill="#cdcdcd" stroke="#acacac" stroke-width="1.3"/>
<rect x="923.7" y="1767.5" width="14.8" height="14.8" fill="#cdcdcd" stroke="#acacac" stroke-width="1.3"/>
<rect x="941.5" y="1767.5" width="14.8" height="14.8" fill="#cdcdcd" stroke="#acacac" stroke-width="1.3"/>
<rect x="959.3" y="1761.1" width="14.8" height="14.8" fill="#cdcdcd" stroke="#acacac" stroke-width="1.3"/>
<rect x="977.1" y="1763.2" width="14.8" height="14.8" fill="#cdcdcd" stroke="#acacac" stroke-width="1.3"/>
<rect x="994.8" y="1745.3" width="14.8" height="14.8" fill="#cdcdcd" stroke="#acacac" stroke-width="1.3"/>
<rect x="1012.6" y="1712.5" width="14.8" height="14.8" fill="#cdcdcd" stroke="#acacac" stroke-width="1.3"/>
<rect x="1030.4" y="1616.3" width="14.8" height="14.8" fill="#cdcdcd" stroke="#acacac" stroke-width="1.3"/>
<rect x="1048.2" y="1528" width="14.8" height="14.8" fill="#cdcdcd" stroke="#acacac" stroke-width="1.3"/>
<rect x="1066" y="1532.6" width="14.8" height="14.8" fill="#cdcdcd" stroke="#acacac" stroke-width="1.3"/>
<rect x="1083.8" y="1650.2" width="14.8" height="14.8" fill="#cdcdcd" stroke="#acacac" stroke-width="1.3"/>
<rect x="1101.6" y="1763.2" width="14.8" height="14.8" fill="#cdcdcd" stroke="#acacac" stroke-width="1.3"/>
<rect x="1119.4" y="1803.4" width="14.8" height="14.8" fill="#cdcdcd" stroke="#acacac" stroke-width="1.3"/>
<rect x="1137.1" y="1814" width="14.8" height="14.8" fill="#cdcdcd" stroke="#acacac" stroke-width="1.3"/>
<rect x="1154.9" y="1816.1" width="14.8" height="14.8" fill="#cdcdcd" stroke="#acacac" stroke-width="1.3"/>
<rect x="1172.7" y="1820.3" width="14.8" height="14.8" fill="#cdcdcd" stroke="#acacac" stroke-width="1.3"/>
<path d="M113 1797.5 C208.7 1798.3 338.8 1800.2 400 1800 C428.8 1799.9 447.1 1800.6 463.4 1799 C473.8 1798 480.8 1796.7 488.6 1794.3 C495.8 1792.1 502.5 1789.4 508.8 1785.7 C515.2 1781.9 521.3 1776.7 526.5 1771.8 C531.3 1767.3 535.1 1762.9 539.1 1757.5 C543.6 1751.4 547.7 1744.5 551.7 1737 C556.2 1728.5 560.1 1718.5 564.3 1709 C568.6 1699.2 572.4 1688.1 577 1679 C581.1 1670.8 585.4 1663 590.2 1656.5 C594.3 1650.8 598.7 1644.7 603.4 1641.8 C607 1639.5 610.8 1638.4 614.7 1638.5 C619 1638.6 623.9 1640.3 627.9 1643.3 C633 1647.2 636.9 1655.1 641.1 1662.1 C645.8 1670 649.8 1679.4 654.3 1688.5 C659.1 1698.2 664.3 1708.6 669.3 1718.7 C674.3 1728.7 679 1739 684.4 1748.8 C689.7 1758.5 695 1769 701.4 1777.1 C707.1 1784.4 713.5 1791.1 720.2 1795.9 C726.2 1800.2 732.5 1802.9 739.1 1805.4 C745.8 1807.9 751.9 1809.2 760 1811 C771.1 1813.5 783.6 1815.7 800 1818 C825.8 1821.7 858.2 1826 900 1829 C969.8 1834 1086.7 1835 1180 1838" fill="none" stroke="#00cdd0" stroke-width="7" stroke-linejoin="round" stroke-linecap="round"/>
<path d="M700 1809 C733.3 1813 768.5 1818 800 1821 C828.1 1823.7 853 1825.4 880 1826.5 C907.8 1827.7 945.7 1828.1 964.5 1827.7 C973.9 1827.5 979.5 1828.4 985.7 1826.6 C991.3 1825 996.5 1822.7 1000.5 1818.2 C1005.6 1812.5 1008 1802.8 1011.1 1792.8 C1015.3 1779.4 1018.3 1761.5 1021.6 1744.2 C1025.4 1724.5 1028.7 1702.1 1032.2 1680.8 C1035.8 1659.1 1039 1635.7 1042.8 1615.3 C1046.1 1597.3 1048.5 1576.7 1053.3 1564.6 C1056.3 1557 1060.5 1547.3 1063.9 1547.5 C1067.6 1547.7 1071.5 1559.6 1074.5 1568.8 C1079.3 1583.3 1081.5 1607.9 1085 1628 C1088.6 1648.8 1092.1 1670.3 1095.6 1691.4 C1099.1 1712.5 1102.3 1735.6 1106.2 1754.8 C1109.5 1771 1111.9 1787.4 1116.7 1799.2 C1120.2 1807.9 1123.6 1815.4 1129.4 1820.3 C1135 1825.1 1142.9 1826.3 1150.6 1828.8 C1159.5 1831.7 1170.2 1833.6 1180 1836" fill="none" stroke="#bf7ae0" stroke-width="7" stroke-linejoin="round" stroke-linecap="round"/>
<path d="M113 1797.5 C225.3 1798.3 377.5 1800.1 450 1800 C484.5 1800 509.7 1800 526.5 1799.3 C534.8 1799 538.9 1798.6 545 1798 C550.9 1797.4 556.6 1797 562.5 1795.5 C568.8 1793.9 575.4 1791.8 581.4 1788.4 C588 1784.6 594.4 1779.7 600.2 1773.3 C607.1 1765.7 613.3 1755.9 619.1 1745 C626.1 1732 632.1 1716.6 637.9 1699.8 C644.8 1679.7 650.6 1655.2 656.7 1631.9 C663.1 1607.5 670.7 1580 675.6 1556.5 C679.8 1536.1 681.8 1518.7 685 1499 C688.4 1478 692 1454.1 695.4 1434.2 C698.4 1417.1 701.2 1402.3 704.2 1386.5 C707.1 1371 710.1 1355.3 713.1 1340.4 C716 1326.4 718.8 1312.8 721.9 1299.7 C724.8 1287.5 727.6 1275.2 730.8 1264.3 C733.6 1254.8 736.4 1245.5 739.6 1237.8 C742.2 1231.6 744.6 1225.3 748 1221.5 C750.6 1218.6 754 1216 757 1215.7 C759.8 1215.4 762.9 1217.3 765.5 1219 C768.4 1220.9 770.9 1223.3 773.3 1227.2 C777.4 1233.8 780.8 1246.7 783.9 1257.3 C787.3 1268.9 789.8 1281.6 792.7 1294.4 C795.8 1308.1 798.7 1322.4 801.6 1336.9 C804.6 1351.9 807.5 1367.6 810.4 1382.9 C813.4 1398.2 816.4 1413.4 819.3 1428.9 C822.3 1444.7 825.1 1460.8 828.1 1476.7 C831.1 1492.6 833.4 1505.3 837.3 1524.4 C843.1 1553 852.9 1597.6 860.2 1631.6 C866.9 1662.5 873.6 1696.2 879.4 1720 C883.4 1736.4 886.5 1749.2 890.6 1761.1 C893.9 1770.7 897.3 1779 901.1 1786.5 C904.4 1792.9 906.9 1798.4 911.7 1803.4 C917.1 1809.1 925.5 1814.5 932.8 1818.2 C939.6 1821.7 946.9 1823.8 954 1825.6 C961 1827.4 967.8 1828.1 975.1 1829 C983 1830 989.6 1830.2 1000 1831 C1017.4 1832.3 1044 1834.3 1070 1835.5 C1102.5 1837 1143.3 1837.7 1180 1838.8" fill="none" stroke="#ff0000" stroke-width="7" stroke-linejoin="round" stroke-linecap="round"/>
<path d="M113 1798 C137.2 1797.8 165.4 1797.9 185.7 1797.5 C200.4 1797.2 211 1797.1 223.6 1796.3 C236.2 1795.5 250.1 1794.2 261.4 1792.5 C270.7 1791.1 278.3 1789.6 286.7 1787.5 C295.2 1785.4 303.6 1783.2 311.9 1780 C320.5 1776.6 328.9 1772 337.2 1767.5 C345.7 1762.9 354.1 1757.8 362.4 1752.5 C370.9 1747 379.1 1740.6 387.6 1735 C396 1729.5 404.2 1723.3 412.9 1719 C421.1 1714.9 431.1 1711.3 438.1 1709.5 C442.9 1708.3 445.8 1707.6 450.7 1707.8 C457.7 1708.1 467.7 1711 476 1713.8 C484.5 1716.7 493.1 1720.3 501.2 1725.1 C509.9 1730.2 518.1 1737.6 526.5 1744.1 C535 1750.6 543.1 1758.2 551.7 1764.2 C559.9 1769.9 568.4 1774.7 576.9 1779.4 C585.2 1784 594.9 1788.9 602.2 1792 C607.6 1794.2 610.5 1795.4 616.5 1796.9 C626 1799.3 641 1801.8 654.3 1803.5 C669.1 1805.4 684.9 1805.6 701.4 1807.3 C719.9 1809.2 739.7 1811.7 760 1814.8 C782.2 1818.1 808.2 1824.3 829.6 1826.8 C847.7 1828.9 860.1 1829 880 1829.8 C908.8 1831 952.4 1831.4 985.7 1832.5 C1015.4 1833.5 1040.2 1834.9 1070.2 1836 C1104.4 1837.2 1143.5 1838.2 1180.2 1839.3" fill="none" stroke="#cc8e00" stroke-width="7" stroke-linejoin="round" stroke-linecap="round"/>
<path d="M113 1797.5 C208.7 1798.3 313 1798.8 400 1800 C472.7 1801 554.3 1803.1 600 1803.8 C623.8 1804.2 636 1803.7 654.3 1804.4 C673 1805.1 693.4 1806.3 710.8 1808.2 C726 1809.8 739.3 1813.1 753.1 1814.5 C766.1 1815.8 778.5 1816.7 791.3 1816.5 C804.2 1816.3 817.3 1815.2 830 1813 C842.8 1810.7 855.8 1806.3 868 1803 C879.4 1799.9 891.4 1797.2 901.1 1793.9 C909 1791.2 915.2 1787.7 922.3 1785.4 C929.3 1783.2 936.3 1781.3 943.4 1780.2 C950.4 1779.1 957.5 1778.5 964.5 1778.5 C971.6 1778.5 978.7 1779.1 985.7 1780.2 C992.8 1781.3 999.9 1783 1006.8 1785.4 C1014 1787.9 1020.9 1791.7 1028 1794.9 C1035 1798.1 1042.1 1801.3 1049.1 1804.5 C1056.1 1807.7 1063.1 1811.2 1070.2 1814 C1077.2 1816.8 1084.3 1819.3 1091.4 1821.4 C1098.4 1823.5 1105.5 1825 1112.5 1826.6 C1119.5 1828.2 1126.5 1829.7 1133.6 1830.9 C1140.6 1832.1 1147.4 1833 1154.8 1834 C1162.9 1835.1 1171.7 1836.1 1180.2 1837.2" fill="none" stroke="#00af6a" stroke-width="7" stroke-linejoin="round" stroke-linecap="round"/>
<path d="M113.8 1798.3 C137.8 1797.9 165.5 1797.6 185.7 1797.1 C200.3 1796.7 211 1796.6 223.6 1795.8 C236.2 1794.9 250.1 1793.7 261.4 1792 C270.7 1790.6 278.3 1789.1 286.7 1787 C295.2 1784.9 303.6 1782.7 311.9 1779.4 C320.5 1776 328.9 1771.4 337.2 1766.8 C345.7 1762.1 354.1 1757 362.4 1751.6 C370.9 1746.1 379.1 1739.7 387.6 1734 C396 1728.4 404.3 1722.1 412.9 1717.6 C421.1 1713.3 430.6 1709.4 438.1 1707.5 C443.7 1706.1 447.7 1705.7 453.3 1705.7 C460.1 1705.7 468.7 1707.5 476 1708.7 C482.9 1709.8 489.9 1711.6 496.2 1712.5 C501.6 1713.2 506.3 1714.2 511.3 1713.8 C516.4 1713.4 521.5 1712.5 526.5 1710 C532.5 1707.1 538.7 1701.7 544.1 1696.1 C550 1689.9 554.8 1682.5 560 1674 C566.4 1663.6 572.6 1649.7 578.9 1637.6 C585.2 1625.6 591 1612.4 597.7 1601.8 C603.6 1592.6 610.1 1585 616.5 1577.3 C622.6 1570 629.9 1563.5 635.4 1556.6 C640.4 1550.3 644.5 1545.5 648.6 1537.7 C654.1 1527.2 659.5 1509.2 663.5 1498 C666.4 1489.8 668 1484.4 670.6 1476.7 C673.7 1467.5 677.9 1456.7 681.2 1446.6 C684.4 1436.6 687.4 1427 690.1 1416.5 C693 1405.2 695.5 1393 698.1 1381.2 C700.8 1369.4 703.4 1357.6 706 1345.8 C708.7 1334 711.3 1321.9 714 1310.4 C716.6 1299.5 719.1 1288.9 721.9 1278.5 C724.7 1268.3 727.7 1257.7 730.8 1248.4 C733.6 1240.2 736.3 1231.8 739.6 1225.4 C742.2 1220.3 744.7 1215.3 748 1212.5 C750.7 1210.3 754 1208.6 757 1208.6 C759.9 1208.6 762.9 1210.5 765.5 1212.5 C768.4 1214.8 770.9 1217.8 773.3 1221.9 C776.8 1228 779.4 1237.6 782.1 1246.6 C785.3 1257.3 788.2 1269.6 791 1282 C794.1 1295.5 796.9 1310.3 799.8 1324.5 C802.8 1338.7 805.7 1352.8 808.7 1367 C811.6 1381.2 814.6 1395 817.5 1409.5 C820.5 1424.5 823.8 1441.2 826.4 1455.5 C828.7 1468.1 830.3 1479 832.6 1490.9 C835 1503.1 837.8 1515.9 840.5 1528 C843.2 1539.8 845.5 1548.6 848.8 1562.7 C853.9 1584.6 862.2 1622.4 867.9 1646.9 C872.3 1666 875.7 1683.1 880 1697.7 C883.4 1709 886.2 1718.2 890.6 1727.3 C894.7 1735.8 899.7 1744.4 905.4 1750.6 C910.4 1756 916.1 1759.9 922.3 1763.2 C928.7 1766.6 936.3 1768.8 943.4 1770.6 C950.4 1772.3 957.4 1773.3 964.5 1773.8 C971.5 1774.3 979.4 1775.1 985.7 1773.8 C991.2 1772.7 996.4 1771 1000.5 1767.5 C1005.1 1763.6 1008 1757.6 1011.1 1750.6 C1015.5 1740.7 1018.3 1726.3 1021.6 1712.5 C1025.4 1696.4 1028.8 1678 1032.2 1659.7 C1035.9 1640.1 1039.2 1618.3 1042.8 1598.4 C1046.2 1579.6 1049 1557.3 1053.3 1543.4 C1056.1 1534.4 1059.5 1522.1 1062.8 1522 C1065.8 1521.9 1069.5 1531.8 1072.3 1539.2 C1076.7 1550.7 1079.6 1568.9 1082.9 1585.7 C1086.7 1605.1 1090 1628 1093.5 1649.1 C1097 1670.2 1100.5 1691.7 1104.1 1712.5 C1107.6 1732.6 1110.5 1754.8 1114.6 1771.7 C1117.8 1784.7 1120 1797 1125.2 1805.5 C1129.2 1812.1 1134.2 1816.5 1140 1820.3 C1146.1 1824.3 1154.2 1826.7 1161.1 1828.8 C1167.5 1830.8 1173.8 1831.6 1180.2 1833" fill="none" stroke="#ff8214" stroke-width="6.8" stroke-linejoin="round" stroke-linecap="round"/>
<rect x="112.9" y="1060.4" width="1067.2" height="859.6" fill="none" stroke="#000" stroke-width="6.5"/>
<line x1="112.9" y1="1920" x2="112.9" y2="1934.8" stroke="#000" stroke-width="6.5" stroke-linecap="butt"/>
<line x1="290.8" y1="1920" x2="290.8" y2="1934.8" stroke="#000" stroke-width="6.5" stroke-linecap="butt"/>
<line x1="468.6" y1="1920" x2="468.6" y2="1934.8" stroke="#000" stroke-width="6.5" stroke-linecap="butt"/>
<line x1="646.5" y1="1920" x2="646.5" y2="1934.8" stroke="#000" stroke-width="6.5" stroke-linecap="butt"/>
<line x1="824.4" y1="1920" x2="824.4" y2="1934.8" stroke="#000" stroke-width="6.5" stroke-linecap="butt"/>
<line x1="1002.2" y1="1920" x2="1002.2" y2="1934.8" stroke="#000" stroke-width="6.5" stroke-linecap="butt"/>
<line x1="1180.1" y1="1920" x2="1180.1" y2="1934.8" stroke="#000" stroke-width="6.5" stroke-linecap="butt"/>
<line x1="201.8" y1="1920" x2="201.8" y2="1928.8" stroke="#000" stroke-width="6.5" stroke-linecap="butt"/>
<line x1="379.7" y1="1920" x2="379.7" y2="1928.8" stroke="#000" stroke-width="6.5" stroke-linecap="butt"/>
<line x1="557.6" y1="1920" x2="557.6" y2="1928.8" stroke="#000" stroke-width="6.5" stroke-linecap="butt"/>
<line x1="735.4" y1="1920" x2="735.4" y2="1928.8" stroke="#000" stroke-width="6.5" stroke-linecap="butt"/>
<line x1="913.3" y1="1920" x2="913.3" y2="1928.8" stroke="#000" stroke-width="6.5" stroke-linecap="butt"/>
<line x1="1091.2" y1="1920" x2="1091.2" y2="1928.8" stroke="#000" stroke-width="6.5" stroke-linecap="butt"/>
<text transform="translate(112.9,1982.5) scale(1.0,1.035)" font-family="&quot;Liberation Sans&quot;, Arial, Helvetica, sans-serif" font-size="49" text-anchor="middle" fill="#000">292</text>
<text transform="translate(290.8,1982.5) scale(1.0,1.035)" font-family="&quot;Liberation Sans&quot;, Arial, Helvetica, sans-serif" font-size="49" text-anchor="middle" fill="#000">290</text>
<text transform="translate(468.6,1982.5) scale(1.0,1.035)" font-family="&quot;Liberation Sans&quot;, Arial, Helvetica, sans-serif" font-size="49" text-anchor="middle" fill="#000">288</text>
<text transform="translate(646.5,1982.5) scale(1.0,1.035)" font-family="&quot;Liberation Sans&quot;, Arial, Helvetica, sans-serif" font-size="49" text-anchor="middle" fill="#000">286</text>
<text transform="translate(824.4,1982.5) scale(1.0,1.035)" font-family="&quot;Liberation Sans&quot;, Arial, Helvetica, sans-serif" font-size="49" text-anchor="middle" fill="#000">284</text>
<text transform="translate(1002.2,1982.5) scale(1.0,1.035)" font-family="&quot;Liberation Sans&quot;, Arial, Helvetica, sans-serif" font-size="49" text-anchor="middle" fill="#000">282</text>
<text transform="translate(1180.1,1982.5) scale(1.0,1.035)" font-family="&quot;Liberation Sans&quot;, Arial, Helvetica, sans-serif" font-size="49" text-anchor="middle" fill="#000">280</text>
<text transform="translate(29,1110) scale(1.0,0.99)" font-family="&quot;Liberation Sans&quot;, Arial, Helvetica, sans-serif" font-size="86" fill="#000">c</text>
<text transform="translate(76.8,1695.5) rotate(-90) scale(1.0,1.035)" font-family="&quot;Liberation Sans&quot;, Arial, Helvetica, sans-serif" font-size="62" font-weight="bold" fill="#000">Intensity (a.u.)</text>
<text transform="translate(349,2047.1) scale(1.0,1.035)" font-family="&quot;Liberation Sans&quot;, Arial, Helvetica, sans-serif" font-size="62" font-weight="bold" fill="#000">Binding Energy (eV)</text>
<text transform="translate(129,1130.7) scale(1.0,1.035)" font-family="&quot;Liberation Sans&quot;, Arial, Helvetica, sans-serif" font-size="63" fill="#000">C 1s</text>
<text transform="translate(540,1257.1) scale(1.0,1.035)" font-family="&quot;Liberation Sans&quot;, Arial, Helvetica, sans-serif" font-size="42" fill="#ff0000">C-C</text>
<line x1="606.4" y1="1265" x2="696.8" y2="1305.3" stroke="#ff0000" stroke-width="4.2" stroke-linecap="butt"/>
<polygon points="712.1,1311.4 688.6,1284.3 674.3,1314.3" fill="#ff0000"/>
<text transform="translate(455.5,1578) scale(1.0,1.035)" font-family="&quot;Liberation Sans&quot;, Arial, Helvetica, sans-serif" font-size="42" fill="#00cdd0">C-O</text>
<line x1="502" y1="1590" x2="575.8" y2="1646.8" stroke="#00cdd0" stroke-width="4.2" stroke-linecap="butt"/>
<polygon points="589,1656 573,1624 552,1651" fill="#00cdd0"/>
<text transform="translate(219,1619) scale(1.0,1.035)" font-family="&quot;Liberation Sans&quot;, Arial, Helvetica, sans-serif" font-size="42" fill="#da9a00">O-C=O</text>
<line x1="283" y1="1631" x2="368.5" y2="1712.5" stroke="#da9a00" stroke-width="4.2" stroke-linecap="butt"/>
<polygon points="381,1724 368,1689 344,1713" fill="#da9a00"/>
<text transform="translate(878,1519.1) scale(1.0,1.035)" font-family="&quot;Liberation Sans&quot;, Arial, Helvetica, sans-serif" font-size="42" fill="#00af6a">C-Ti-O</text>
<line x1="945.1" y1="1531.1" x2="960.1" y2="1758.6" stroke="#00af6a" stroke-width="4.2" stroke-linecap="butt"/>
<polygon points="960.7,1775.7 942.7,1742.1 976.3,1740.9" fill="#00af6a"/>
<text transform="translate(1055.5,1420.8) scale(1.0,1.035)" font-family="&quot;Liberation Sans&quot;, Arial, Helvetica, sans-serif" font-size="42" fill="#bf7ae0">C-Ti</text>
<line x1="1093.8" y1="1431.6" x2="1078.8" y2="1536.8" stroke="#bf7ae0" stroke-width="4.2" stroke-linecap="butt"/>
<polygon points="1077,1552.7 1063.8,1517.9 1097.4,1523.9" fill="#bf7ae0"/>
<rect x="1368.5" y="1790" width="14.8" height="14.8" fill="#cdcdcd" stroke="#acacac" stroke-width="1.3"/>
<rect x="1383.7" y="1779.9" width="14.8" height="14.8" fill="#cdcdcd" stroke="#acacac" stroke-width="1.3"/>
<rect x="1398.9" y="1771.8" width="14.8" height="14.8" fill="#cdcdcd" stroke="#acacac" stroke-width="1.3"/>
<rect x="1414.1" y="1790.4" width="14.8" height="14.8" fill="#cdcdcd" stroke="#acacac" stroke-width="1.3"/>
<rect x="1429.4" y="1785.9" width="14.8" height="14.8" fill="#cdcdcd" stroke="#acacac" stroke-width="1.3"/>
<rect x="1444.6" y="1791" width="14.8" height="14.8" fill="#cdcdcd" stroke="#acacac" stroke-width="1.3"/>
<rect x="1459.8" y="1777.8" width="14.8" height="14.8" fill="#cdcdcd" stroke="#acacac" stroke-width="1.3"/>
<rect x="1475" y="1783.9" width="14.8" height="14.8" fill="#cdcdcd" stroke="#acacac" stroke-width="1.3"/>
<rect x="1490.2" y="1781.9" width="14.8" height="14.8" fill="#cdcdcd" stroke="#acacac" stroke-width="1.3"/>
<rect x="1505.4" y="1779.9" width="14.8" height="14.8" fill="#cdcdcd" stroke="#acacac" stroke-width="1.3"/>
<rect x="1520.7" y="1772.8" width="14.8" height="14.8" fill="#cdcdcd" stroke="#acacac" stroke-width="1.3"/>
<rect x="1535.9" y="1775.8" width="14.8" height="14.8" fill="#cdcdcd" stroke="#acacac" stroke-width="1.3"/>
<rect x="1551.1" y="1771.8" width="14.8" height="14.8" fill="#cdcdcd" stroke="#acacac" stroke-width="1.3"/>
<rect x="1566.3" y="1770.8" width="14.8" height="14.8" fill="#cdcdcd" stroke="#acacac" stroke-width="1.3"/>
<rect x="1581.5" y="1771.8" width="14.8" height="14.8" fill="#cdcdcd" stroke="#acacac" stroke-width="1.3"/>
<rect x="1596.7" y="1771.8" width="14.8" height="14.8" fill="#cdcdcd" stroke="#acacac" stroke-width="1.3"/>
<rect x="1611.9" y="1770.8" width="14.8" height="14.8" fill="#cdcdcd" stroke="#acacac" stroke-width="1.3"/>
<rect x="1627.2" y="1768.7" width="14.8" height="14.8" fill="#cdcdcd" stroke="#acacac" stroke-width="1.3"/>
<rect x="1642.4" y="1755.2" width="14.8" height="14.8" fill="#cdcdcd" stroke="#acacac" stroke-width="1.3"/>
<rect x="1657.6" y="1772.8" width="14.8" height="14.8" fill="#cdcdcd" stroke="#acacac" stroke-width="1.3"/>
<rect x="1672.8" y="1762.7" width="14.8" height="14.8" fill="#cdcdcd" stroke="#acacac" stroke-width="1.3"/>
<rect x="1688" y="1767.7" width="14.8" height="14.8" fill="#cdcdcd" stroke="#acacac" stroke-width="1.3"/>
<rect x="1703.2" y="1765.7" width="14.8" height="14.8" fill="#cdcdcd" stroke="#acacac" stroke-width="1.3"/>
<rect x="1718.5" y="1768.7" width="14.8" height="14.8" fill="#cdcdcd" stroke="#acacac" stroke-width="1.3"/>
<rect x="1733.7" y="1773.8" width="14.8" height="14.8" fill="#cdcdcd" stroke="#acacac" stroke-width="1.3"/>
<rect x="1748.9" y="1765.7" width="14.8" height="14.8" fill="#cdcdcd" stroke="#acacac" stroke-width="1.3"/>
<rect x="1764.1" y="1767.7" width="14.8" height="14.8" fill="#cdcdcd" stroke="#acacac" stroke-width="1.3"/>
<rect x="1779.3" y="1761.6" width="14.8" height="14.8" fill="#cdcdcd" stroke="#acacac" stroke-width="1.3"/>
<rect x="1794.5" y="1748.6" width="14.8" height="14.8" fill="#cdcdcd" stroke="#acacac" stroke-width="1.3"/>
<rect x="1809.8" y="1724.1" width="14.8" height="14.8" fill="#cdcdcd" stroke="#acacac" stroke-width="1.3"/>
<rect x="1825" y="1696.7" width="14.8" height="14.8" fill="#cdcdcd" stroke="#acacac" stroke-width="1.3"/>
<rect x="1840.2" y="1669.3" width="14.8" height="14.8" fill="#cdcdcd" stroke="#acacac" stroke-width="1.3"/>
<rect x="1855.4" y="1636.4" width="14.8" height="14.8" fill="#cdcdcd" stroke="#acacac" stroke-width="1.3"/>
<rect x="1870.6" y="1588.9" width="14.8" height="14.8" fill="#cdcdcd" stroke="#acacac" stroke-width="1.3"/>
<rect x="1885.8" y="1537.8" width="14.8" height="14.8" fill="#cdcdcd" stroke="#acacac" stroke-width="1.3"/>
<rect x="1901" y="1472.1" width="14.8" height="14.8" fill="#cdcdcd" stroke="#acacac" stroke-width="1.3"/>
<rect x="1916.3" y="1410" width="14.8" height="14.8" fill="#cdcdcd" stroke="#acacac" stroke-width="1.3"/>
<rect x="1931.5" y="1357" width="14.8" height="14.8" fill="#cdcdcd" stroke="#acacac" stroke-width="1.3"/>
<rect x="1946.7" y="1300.4" width="14.8" height="14.8" fill="#cdcdcd" stroke="#acacac" stroke-width="1.3"/>
<rect x="1961.9" y="1254.7" width="14.8" height="14.8" fill="#cdcdcd" stroke="#acacac" stroke-width="1.3"/>
<rect x="1977.1" y="1229.1" width="14.8" height="14.8" fill="#cdcdcd" stroke="#acacac" stroke-width="1.3"/>
<rect x="1992.3" y="1231" width="14.8" height="14.8" fill="#cdcdcd" stroke="#acacac" stroke-width="1.3"/>
<rect x="2007.6" y="1251" width="14.8" height="14.8" fill="#cdcdcd" stroke="#acacac" stroke-width="1.3"/>
<rect x="2022.8" y="1300.4" width="14.8" height="14.8" fill="#cdcdcd" stroke="#acacac" stroke-width="1.3"/>
<rect x="2038" y="1347.9" width="14.8" height="14.8" fill="#cdcdcd" stroke="#acacac" stroke-width="1.3"/>
<rect x="2053.2" y="1430" width="14.8" height="14.8" fill="#cdcdcd" stroke="#acacac" stroke-width="1.3"/>
<rect x="2068.4" y="1487.6" width="14.8" height="14.8" fill="#cdcdcd" stroke="#acacac" stroke-width="1.3"/>
<rect x="2083.6" y="1524.6" width="14.8" height="14.8" fill="#cdcdcd" stroke="#acacac" stroke-width="1.3"/>
<rect x="2098.8" y="1551.9" width="14.8" height="14.8" fill="#cdcdcd" stroke="#acacac" stroke-width="1.3"/>
<rect x="2114.1" y="1575.1" width="14.8" height="14.8" fill="#cdcdcd" stroke="#acacac" stroke-width="1.3"/>
<rect x="2129.3" y="1581.4" width="14.8" height="14.8" fill="#cdcdcd" stroke="#acacac" stroke-width="1.3"/>
<rect x="2144.5" y="1595.2" width="14.8" height="14.8" fill="#cdcdcd" stroke="#acacac" stroke-width="1.3"/>
<rect x="2159.7" y="1584.6" width="14.8" height="14.8" fill="#cdcdcd" stroke="#acacac" stroke-width="1.3"/>
<rect x="2174.9" y="1556.1" width="14.8" height="14.8" fill="#cdcdcd" stroke="#acacac" stroke-width="1.3"/>
<rect x="2190.1" y="1540.2" width="14.8" height="14.8" fill="#cdcdcd" stroke="#acacac" stroke-width="1.3"/>
<rect x="2205.4" y="1563.5" width="14.8" height="14.8" fill="#cdcdcd" stroke="#acacac" stroke-width="1.3"/>
<rect x="2220.6" y="1641.7" width="14.8" height="14.8" fill="#cdcdcd" stroke="#acacac" stroke-width="1.3"/>
<rect x="2235.8" y="1706.1" width="14.8" height="14.8" fill="#cdcdcd" stroke="#acacac" stroke-width="1.3"/>
<rect x="2251" y="1776.9" width="14.8" height="14.8" fill="#cdcdcd" stroke="#acacac" stroke-width="1.3"/>
<rect x="2266.2" y="1806.5" width="14.8" height="14.8" fill="#cdcdcd" stroke="#acacac" stroke-width="1.3"/>
<rect x="2281.4" y="1809.7" width="14.8" height="14.8" fill="#cdcdcd" stroke="#acacac" stroke-width="1.3"/>
<rect x="2296.7" y="1815" width="14.8" height="14.8" fill="#cdcdcd" stroke="#acacac" stroke-width="1.3"/>
<rect x="2311.9" y="1811.8" width="14.8" height="14.8" fill="#cdcdcd" stroke="#acacac" stroke-width="1.3"/>
<rect x="2327.1" y="1813.9" width="14.8" height="14.8" fill="#cdcdcd" stroke="#acacac" stroke-width="1.3"/>
<rect x="2342.3" y="1825.6" width="14.8" height="14.8" fill="#cdcdcd" stroke="#acacac" stroke-width="1.3"/>
<rect x="2357.5" y="1819.2" width="14.8" height="14.8" fill="#cdcdcd" stroke="#acacac" stroke-width="1.3"/>
<rect x="2372.7" y="1822.4" width="14.8" height="14.8" fill="#cdcdcd" stroke="#acacac" stroke-width="1.3"/>
<rect x="2387.9" y="1826.6" width="14.8" height="14.8" fill="#cdcdcd" stroke="#acacac" stroke-width="1.3"/>
<rect x="2403.2" y="1826.6" width="14.8" height="14.8" fill="#cdcdcd" stroke="#acacac" stroke-width="1.3"/>
<rect x="2418.4" y="1826.6" width="14.8" height="14.8" fill="#cdcdcd" stroke="#acacac" stroke-width="1.3"/>
<rect x="2433.6" y="1821.6" width="14.8" height="14.8" fill="#cdcdcd" stroke="#acacac" stroke-width="1.3"/>
<path d="M1375 1797.5 C1395.2 1796.7 1415.5 1795.9 1435.7 1795 C1455.9 1794.1 1478.2 1793.1 1496.4 1792 C1511.3 1791.1 1523.4 1790.5 1536.9 1789 C1550.4 1787.5 1564.9 1785 1577.4 1783 C1588.2 1781.3 1597.6 1779.3 1607.7 1778 C1617.8 1776.8 1628 1775.3 1638.1 1775.5 C1648.2 1775.7 1658.4 1777.5 1668.5 1779 C1678.6 1780.5 1689.7 1783 1698.8 1784.5 C1706.2 1785.7 1711.1 1786.5 1719 1787.3 C1730.2 1788.5 1746 1789.3 1759.5 1790.3 C1773 1791.3 1785.8 1792.3 1800 1793.5 C1815.8 1794.8 1831.6 1796.4 1850 1798 C1872.7 1800 1902.8 1802.3 1926.1 1804.6 C1945.9 1806.6 1962.6 1809 1980.9 1810.8 C1999.2 1812.6 2018.4 1814 2035.7 1815.5 C2051.3 1816.8 2062.9 1818.2 2080 1819.2 C2103.6 1820.6 2136.3 1821.2 2164.5 1822.4 C2192.7 1823.6 2220.9 1825.5 2249.1 1826.6 C2277.3 1827.6 2303.9 1828.3 2333.6 1828.7 C2366.9 1829.1 2404.1 1828.7 2439.3 1828.7" fill="none" stroke="#9a9000" stroke-width="7" stroke-linejoin="round" stroke-linecap="round"/>
<path d="M1375 1800.5 C1429 1800.2 1486.8 1799.7 1536.9 1799.5 C1580.3 1799.4 1619.6 1799.3 1658.3 1799.5 C1693.7 1799.7 1727.1 1800 1760 1800.5 C1790.9 1801 1821.3 1801.7 1850 1802.5 C1876.4 1803.2 1900.8 1804.2 1926 1805 C1950.8 1805.8 1983.1 1807.3 2000 1807.5 C2008.8 1807.6 2013.5 1807.7 2020 1807.3 C2026.4 1806.9 2033 1806.2 2038.7 1805 C2043.6 1804 2047.7 1802.7 2052 1801 C2056.3 1799.3 2060.3 1797.6 2064.5 1794.7 C2069.7 1791.1 2074.9 1785.6 2080 1780.1 C2085.7 1773.9 2091.8 1766.9 2096.9 1759 C2102.5 1750.2 2106.8 1739.5 2111.7 1729.4 C2116.7 1719 2120.6 1705.6 2126.5 1697.7 C2130.9 1691.8 2136.4 1684.5 2141.3 1684.5 C2146.2 1684.5 2151.7 1691.9 2156.1 1697.7 C2161.8 1705.2 2166 1717.4 2170.9 1727.3 C2175.8 1737.2 2180.3 1747.6 2185.7 1756.9 C2190.9 1765.8 2196.1 1774.7 2202.6 1782.2 C2208.9 1789.4 2215.9 1796 2223.7 1801.3 C2231.4 1806.6 2240 1810.6 2249.1 1813.9 C2258.9 1817.4 2270.2 1819.5 2280.8 1821.3 C2291.3 1823 2300.9 1823.7 2312.5 1824.5 C2326.7 1825.5 2342.1 1826 2360 1826.5 C2383.2 1827.2 2413.3 1827.5 2440 1828" fill="none" stroke="#cc8e00" stroke-width="7" stroke-linejoin="round" stroke-linecap="round"/>
<path d="M1375 1799.4 C1429 1798.9 1486.8 1798.1 1536.9 1797.8 C1580.3 1797.5 1628.4 1797.6 1658.3 1797.4 C1675.8 1797.3 1686.3 1797.5 1700 1797 C1713.5 1796.5 1729.3 1795.9 1740 1794.5 C1747.2 1793.6 1751.9 1792 1758 1791 C1764.2 1790 1771.1 1790.6 1776.8 1788.5 C1782.2 1786.5 1786.7 1782.2 1791.4 1779.1 C1795.8 1776.2 1800.5 1773.2 1804.3 1770.5 C1807.5 1768.3 1810 1766.3 1812.8 1764.1 C1815.7 1761.8 1818.7 1759.8 1821.4 1756.8 C1824.5 1753.3 1827.3 1748.2 1830 1744 C1832.6 1740 1835.3 1736.1 1837.5 1732 C1839.7 1728.1 1841.2 1724.1 1843.2 1720 C1845.4 1715.5 1847.6 1711.1 1850 1706 C1852.9 1699.8 1856.6 1692.9 1859.6 1685.5 C1863 1677.1 1866.1 1667.8 1869.2 1658.1 C1872.6 1647.4 1875.8 1635.3 1878.8 1623.8 C1881.8 1612.4 1884.2 1600.9 1887 1589.6 C1889.7 1578.5 1892.5 1567.9 1895.2 1556.7 C1898 1545.1 1900.4 1533.4 1903.4 1521.1 C1906.6 1507.9 1910.4 1494.7 1913.7 1480 C1917.5 1463.3 1920.5 1444.4 1924.5 1426 C1928.7 1406.5 1933.6 1386.1 1938.5 1366 C1943.5 1345.5 1949.6 1321.2 1954.5 1304 C1958.1 1291.5 1961.2 1281.5 1964.5 1272 C1967.2 1264.2 1969.2 1256.8 1972.5 1251 C1975.2 1246.2 1978.5 1241.8 1982 1239 C1984.8 1236.7 1988 1234.6 1991 1234.5 C1994 1234.4 1997.3 1236.5 2000 1238.5 C2003 1240.8 2005.4 1243.7 2008 1248 C2012.2 1255 2016.3 1267.1 2020 1278 C2024.3 1290.7 2028.1 1305.5 2032 1320 C2036.1 1335.4 2040.2 1352.5 2044 1368 C2047.5 1382.5 2050.7 1395.8 2054 1410 C2057.4 1424.5 2060.9 1440.1 2064 1454 C2066.8 1466.6 2069.3 1478 2072 1490 C2074.7 1502 2077.1 1513.3 2080 1526 C2083.3 1540.4 2087.1 1556.7 2090.6 1572 C2094.1 1587.2 2097.5 1602.8 2101.1 1617.4 C2104.5 1631.2 2108.1 1644.5 2111.7 1657.5 C2115.1 1669.8 2118.7 1681.9 2122.3 1693.5 C2125.7 1704.4 2129.1 1715.3 2132.8 1725.2 C2136.2 1734.2 2139.6 1742.8 2143.4 1750.5 C2146.8 1757.4 2150.3 1763.7 2154 1769.6 C2157.4 1774.9 2160.1 1779.3 2164.5 1784.3 C2170.1 1790.6 2178.3 1798.4 2185.7 1803.4 C2192.4 1808 2199.6 1811.2 2206.8 1813.9 C2213.7 1816.4 2220.1 1817.7 2227.9 1819.2 C2237.3 1821 2248.4 1822.3 2259.6 1823.4 C2272.2 1824.6 2282.5 1825.3 2300 1826 C2332.6 1827.3 2393.3 1827.7 2440 1828.5" fill="none" stroke="#ff0000" stroke-width="7" stroke-linejoin="round" stroke-linecap="round"/>
<path d="M1375 1799.4 C1429 1798.9 1486.8 1798.1 1536.9 1797.8 C1580.3 1797.5 1628.4 1797.8 1658.3 1797.4 C1675.8 1797.2 1686.3 1797.1 1700 1796.5 C1713.5 1795.9 1729.5 1795.6 1740 1793.7 C1747 1792.4 1751.4 1790.5 1757.1 1788.5 C1762.9 1786.5 1768.6 1784.1 1774.3 1781.7 C1780 1779.3 1786.1 1776.3 1791.4 1774 C1796 1772 1800.1 1770 1804.3 1768.8 C1808.1 1767.8 1811.8 1767.1 1815.4 1767.1 C1818.9 1767.1 1822.2 1767.7 1825.7 1768.8 C1829.8 1770.1 1834.3 1772.6 1838.5 1774.8 C1842.8 1777.1 1847 1780.2 1851.4 1782.5 C1855.6 1784.7 1859.7 1786.7 1864.3 1788.5 C1869.2 1790.5 1873.3 1791.8 1880 1793.7 C1891.3 1796.9 1910 1801.8 1926.1 1804.6 C1943.5 1807.6 1962.6 1809 1980.9 1810.8 C1999.2 1812.6 2018.4 1814 2035.7 1815.5 C2051.3 1816.8 2062.9 1818.2 2080 1819.2 C2103.6 1820.6 2136.3 1821.2 2164.5 1822.4 C2192.7 1823.6 2220.9 1825.5 2249.1 1826.6 C2277.3 1827.6 2303.9 1828.3 2333.6 1828.7 C2366.9 1829.1 2404.1 1828.7 2439.3 1828.7" fill="none" stroke="#008000" stroke-width="7" stroke-linejoin="round" stroke-linecap="round"/>
<path d="M2108 1820.5 C2112 1820.2 2116 1820.1 2120 1819.5 C2124.2 1818.8 2128.8 1818.6 2132.8 1816.5 C2137.3 1814.2 2142 1810.7 2145.5 1805.5 C2150.3 1798.4 2152.8 1786.9 2156.1 1775.9 C2160 1762.7 2163.3 1747.1 2166.7 1731.5 C2170.4 1714.2 2173.5 1693.9 2177.2 1676.6 C2180.6 1661 2184.2 1644 2187.8 1632.2 C2190.2 1624.1 2191.9 1616.2 2195.2 1612 C2197.3 1609.3 2200.1 1606.9 2202.6 1607 C2205.3 1607.1 2208.6 1609.9 2211 1613.2 C2214.8 1618.5 2216.9 1629 2219.5 1638.5 C2222.7 1650.3 2224.9 1664.5 2227.9 1678.7 C2231.2 1694.6 2234.9 1712.9 2238.5 1729.4 C2242 1745.3 2245.1 1762.2 2249.1 1775.9 C2252.3 1787 2255.3 1798 2259.6 1805.5 C2262.7 1811 2265.5 1815.1 2270.2 1818.2 C2275.6 1821.8 2280.9 1822.8 2291.3 1824.5 C2318.3 1828.8 2390.4 1827.2 2440 1828.5" fill="none" stroke="#bf7ae0" stroke-width="7" stroke-linejoin="round" stroke-linecap="round"/>
<path d="M1375 1797 C1395.2 1796.1 1415.5 1795.2 1435.7 1794.3 C1455.9 1793.3 1478.2 1792.4 1496.4 1791.3 C1511.3 1790.4 1523.4 1789.8 1536.9 1788.3 C1550.4 1786.8 1564.9 1784.2 1577.4 1782.2 C1588.2 1780.5 1597.6 1778.4 1607.7 1777.1 C1617.8 1775.9 1628 1774.5 1638.1 1774.7 C1648.2 1774.9 1658.4 1776.9 1668.5 1778.2 C1678.6 1779.4 1689.4 1781.4 1698.8 1782.2 C1707 1782.9 1714.8 1783.6 1722 1783.3 C1728.4 1783 1734.1 1781.9 1740 1780.8 C1745.8 1779.7 1751.5 1778.4 1757.1 1776.5 C1762.9 1774.5 1768.8 1772.1 1774.3 1768.8 C1780.2 1765.3 1785.8 1760.7 1791.4 1756 C1797.3 1751 1802.9 1745.3 1808.6 1739.7 C1814.4 1733.9 1820.5 1727.5 1825.7 1721.7 C1830.3 1716.6 1834.4 1712.3 1838.5 1707 C1843 1701.2 1847.7 1694.3 1851.4 1688 C1854.8 1682.3 1857.3 1677 1860 1671.1 C1862.8 1664.8 1865.2 1658.8 1867.9 1651.2 C1871.4 1641.4 1875.5 1628.4 1878.9 1617 C1882.3 1605.6 1885.5 1594.2 1888.5 1582.7 C1891.5 1571.3 1894 1559.9 1896.7 1548.5 C1899.4 1537.1 1902.3 1525.5 1904.9 1514.2 C1907.4 1503.3 1909.6 1492.7 1912 1482 C1914.3 1471.3 1916.6 1460.5 1919 1450 C1921.3 1439.8 1923.7 1430 1926 1420 C1928.3 1410 1930.7 1400 1933 1390 C1935.3 1380 1937.5 1370 1940 1360 C1942.5 1350 1945.3 1340 1948 1330 C1950.7 1320 1953.3 1309.9 1956 1300 C1958.6 1290.2 1960.9 1280.2 1964 1271 C1966.9 1262.3 1970.5 1252.7 1974 1246 C1976.6 1241.1 1978.8 1236.7 1982 1234 C1984.6 1231.8 1988 1230 1991 1230 C1994 1230 1997.3 1231.9 2000 1234 C2003.1 1236.4 2005.5 1239.7 2008 1244 C2011.6 1250.1 2014.8 1259.5 2018 1268 C2021.5 1277.4 2024.8 1287.5 2028 1298 C2031.5 1309.4 2034.7 1322 2038 1334 C2041.3 1346 2045 1358 2048 1370 C2051 1382 2053.3 1394.2 2056 1406 C2058.6 1417.5 2061.3 1428.7 2064 1440 C2066.7 1451.3 2069.2 1463.2 2072 1474 C2074.6 1483.8 2077.2 1493.1 2080 1502 C2082.6 1510.3 2085.2 1518.4 2088 1526 C2090.6 1533 2093.4 1540.4 2096 1546 C2098 1550.3 2099.7 1553.1 2102 1557 C2104.8 1561.6 2107.8 1567.1 2111.7 1571.5 C2115.9 1576.1 2121.2 1580.2 2126.5 1584 C2131.8 1587.8 2138.2 1591 2143.4 1594.1 C2147.9 1596.8 2151.8 1601.5 2156.1 1601.8 C2160.3 1602.1 2165.1 1599.8 2168.8 1596.2 C2174.2 1590.9 2176.4 1576.7 2181.4 1568.8 C2185.8 1561.9 2191.5 1551.2 2196.2 1550.8 C2199.9 1550.5 2203.9 1555.9 2206.8 1560.3 C2210.8 1566.4 2212.7 1576.1 2215.3 1585.7 C2218.5 1597.9 2220.9 1613.8 2223.7 1627.9 C2226.5 1642 2229.4 1656.1 2232.2 1670.2 C2235 1684.3 2237.8 1698.4 2240.6 1712.5 C2243.4 1726.6 2245.8 1741.3 2249.1 1754.8 C2252.2 1767.3 2255.5 1780.8 2259.6 1790.7 C2262.8 1798.2 2265.2 1804.5 2270.2 1809.7 C2275.5 1815.2 2282.7 1819.5 2291.3 1822.4 C2302.6 1826.2 2316.3 1825.7 2333.6 1826.6 C2360.9 1828.1 2404.1 1827.3 2439.3 1827.7" fill="none" stroke="#ff8214" stroke-width="6.8" stroke-linejoin="round" stroke-linecap="round"/>
<rect x="1375.9" y="1060.1" width="1065.1" height="858.1" fill="none" stroke="#000" stroke-width="6.5"/>
<line x1="1375.9" y1="1918.2" x2="1375.9" y2="1933" stroke="#000" stroke-width="6.5" stroke-linecap="butt"/>
<line x1="1528.1" y1="1918.2" x2="1528.1" y2="1933" stroke="#000" stroke-width="6.5" stroke-linecap="butt"/>
<line x1="1680.2" y1="1918.2" x2="1680.2" y2="1933" stroke="#000" stroke-width="6.5" stroke-linecap="butt"/>
<line x1="1832.4" y1="1918.2" x2="1832.4" y2="1933" stroke="#000" stroke-width="6.5" stroke-linecap="butt"/>
<line x1="1984.5" y1="1918.2" x2="1984.5" y2="1933" stroke="#000" stroke-width="6.5" stroke-linecap="butt"/>
<line x1="2136.7" y1="1918.2" x2="2136.7" y2="1933" stroke="#000" stroke-width="6.5" stroke-linecap="butt"/>
<line x1="2288.8" y1="1918.2" x2="2288.8" y2="1933" stroke="#000" stroke-width="6.5" stroke-linecap="butt"/>
<line x1="2441" y1="1918.2" x2="2441" y2="1933" stroke="#000" stroke-width="6.5" stroke-linecap="butt"/>
<line x1="1452" y1="1918.2" x2="1452" y2="1927" stroke="#000" stroke-width="6.5" stroke-linecap="butt"/>
<line x1="1604.1" y1="1918.2" x2="1604.1" y2="1927" stroke="#000" stroke-width="6.5" stroke-linecap="butt"/>
<line x1="1756.3" y1="1918.2" x2="1756.3" y2="1927" stroke="#000" stroke-width="6.5" stroke-linecap="butt"/>
<line x1="1908.4" y1="1918.2" x2="1908.4" y2="1927" stroke="#000" stroke-width="6.5" stroke-linecap="butt"/>
<line x1="2060.6" y1="1918.2" x2="2060.6" y2="1927" stroke="#000" stroke-width="6.5" stroke-linecap="butt"/>
<line x1="2212.8" y1="1918.2" x2="2212.8" y2="1927" stroke="#000" stroke-width="6.5" stroke-linecap="butt"/>
<line x1="2364.9" y1="1918.2" x2="2364.9" y2="1927" stroke="#000" stroke-width="6.5" stroke-linecap="butt"/>
<text transform="translate(1375.9,1981) scale(1.0,1.035)" font-family="&quot;Liberation Sans&quot;, Arial, Helvetica, sans-serif" font-size="49" text-anchor="middle" fill="#000">540</text>
<text transform="translate(1528.1,1981) scale(1.0,1.035)" font-family="&quot;Liberation Sans&quot;, Arial, Helvetica, sans-serif" font-size="49" text-anchor="middle" fill="#000">538</text>
<text transform="translate(1680.2,1981) scale(1.0,1.035)" font-family="&quot;Liberation Sans&quot;, Arial, Helvetica, sans-serif" font-size="49" text-anchor="middle" fill="#000">536</text>
<text transform="translate(1832.4,1981) scale(1.0,1.035)" font-family="&quot;Liberation Sans&quot;, Arial, Helvetica, sans-serif" font-size="49" text-anchor="middle" fill="#000">534</text>
<text transform="translate(1984.5,1981) scale(1.0,1.035)" font-family="&quot;Liberation Sans&quot;, Arial, Helvetica, sans-serif" font-size="49" text-anchor="middle" fill="#000">532</text>
<text transform="translate(2136.7,1981) scale(1.0,1.035)" font-family="&quot;Liberation Sans&quot;, Arial, Helvetica, sans-serif" font-size="49" text-anchor="middle" fill="#000">530</text>
<text transform="translate(2288.8,1981) scale(1.0,1.035)" font-family="&quot;Liberation Sans&quot;, Arial, Helvetica, sans-serif" font-size="49" text-anchor="middle" fill="#000">528</text>
<text transform="translate(2441,1981) scale(1.0,1.035)" font-family="&quot;Liberation Sans&quot;, Arial, Helvetica, sans-serif" font-size="49" text-anchor="middle" fill="#000">526</text>
<text transform="translate(1278.6,1112) scale(1.0,0.99)" font-family="&quot;Liberation Sans&quot;, Arial, Helvetica, sans-serif" font-size="86" fill="#000">d</text>
<text transform="translate(1339.4,1695.5) rotate(-90) scale(1.0,1.035)" font-family="&quot;Liberation Sans&quot;, Arial, Helvetica, sans-serif" font-size="62" font-weight="bold" fill="#000">Intensity (a.u.)</text>
<text transform="translate(1611.5,2045.9) scale(1.0,1.035)" font-family="&quot;Liberation Sans&quot;, Arial, Helvetica, sans-serif" font-size="62" font-weight="bold" fill="#000">Binding Energy (eV)</text>
<text transform="translate(1392.7,1132) scale(1.0,1.035)" font-family="&quot;Liberation Sans&quot;, Arial, Helvetica, sans-serif" font-size="63" fill="#000">O 1s</text>
<text transform="translate(1651,1290.7) scale(1.0,1.035)" font-family="&quot;Liberation Sans&quot;, Arial, Helvetica, sans-serif" font-size="42" fill="#ff0000">Ti-C-(OH)</text>
<text transform="translate(1833.5,1304.5) scale(1.0,1.035)" font-family="&quot;Liberation Sans&quot;, Arial, Helvetica, sans-serif" font-size="42" fill="#ff0000">X</text>
<line x1="1780.3" y1="1307.7" x2="1907.6" y2="1392.3" stroke="#ff0000" stroke-width="4.2" stroke-linecap="butt"/>
<polygon points="1922,1401.6 1902.5,1369.2 1883.9,1396.8" fill="#ff0000"/>
<text transform="translate(2078.5,1445.4) scale(1.0,1.035)" font-family="&quot;Liberation Sans&quot;, Arial, Helvetica, sans-serif" font-size="42" fill="#da9a00">Ti-C-O</text>
<text transform="translate(2202.5,1460) scale(1.0,1.035)" font-family="&quot;Liberation Sans&quot;, Arial, Helvetica, sans-serif" font-size="42" fill="#da9a00">X</text>
<line x1="2156.2" y1="1460.8" x2="2143.8" y2="1663.6" stroke="#da9a00" stroke-width="3.4" stroke-linecap="butt"/>
<polygon points="2142.5,1680.1 2128.8,1646.7 2161.3,1647.5" fill="#da9a00"/>
<text transform="translate(2264,1542.2) scale(1.0,1.035)" font-family="&quot;Liberation Sans&quot;, Arial, Helvetica, sans-serif" font-size="42" fill="#bf7ae0">TiO</text>
<text transform="translate(2330.5,1556.7) scale(1.0,1.035)" font-family="&quot;Liberation Sans&quot;, Arial, Helvetica, sans-serif" font-size="42" fill="#bf7ae0">2</text>
<line x1="2303.5" y1="1556.7" x2="2236.3" y2="1630.4" stroke="#bf7ae0" stroke-width="4.2" stroke-linecap="butt"/>
<polygon points="2224.7,1642.4 2235.9,1607.3 2259.9,1629.5" fill="#bf7ae0"/>
<text transform="translate(1632,1659.3) scale(1.0,1.035)" font-family="&quot;Liberation Sans&quot;, Arial, Helvetica, sans-serif" font-size="42" fill="#008000">H</text>
<text transform="translate(1660,1673.9) scale(1.0,1.035)" font-family="&quot;Liberation Sans&quot;, Arial, Helvetica, sans-serif" font-size="42" fill="#008000">2</text>
<text transform="translate(1684,1659.3) scale(1.0,1.035)" font-family="&quot;Liberation Sans&quot;, Arial, Helvetica, sans-serif" font-size="42" fill="#008000">O</text>
<line x1="1702.2" y1="1675.7" x2="1774.7" y2="1760.8" stroke="#008000" stroke-width="4.2" stroke-linecap="butt"/>
<polygon points="1785.4,1772.6 1751.1,1761.2 1776.7,1737" fill="#008000"/></svg>
</body></html>
